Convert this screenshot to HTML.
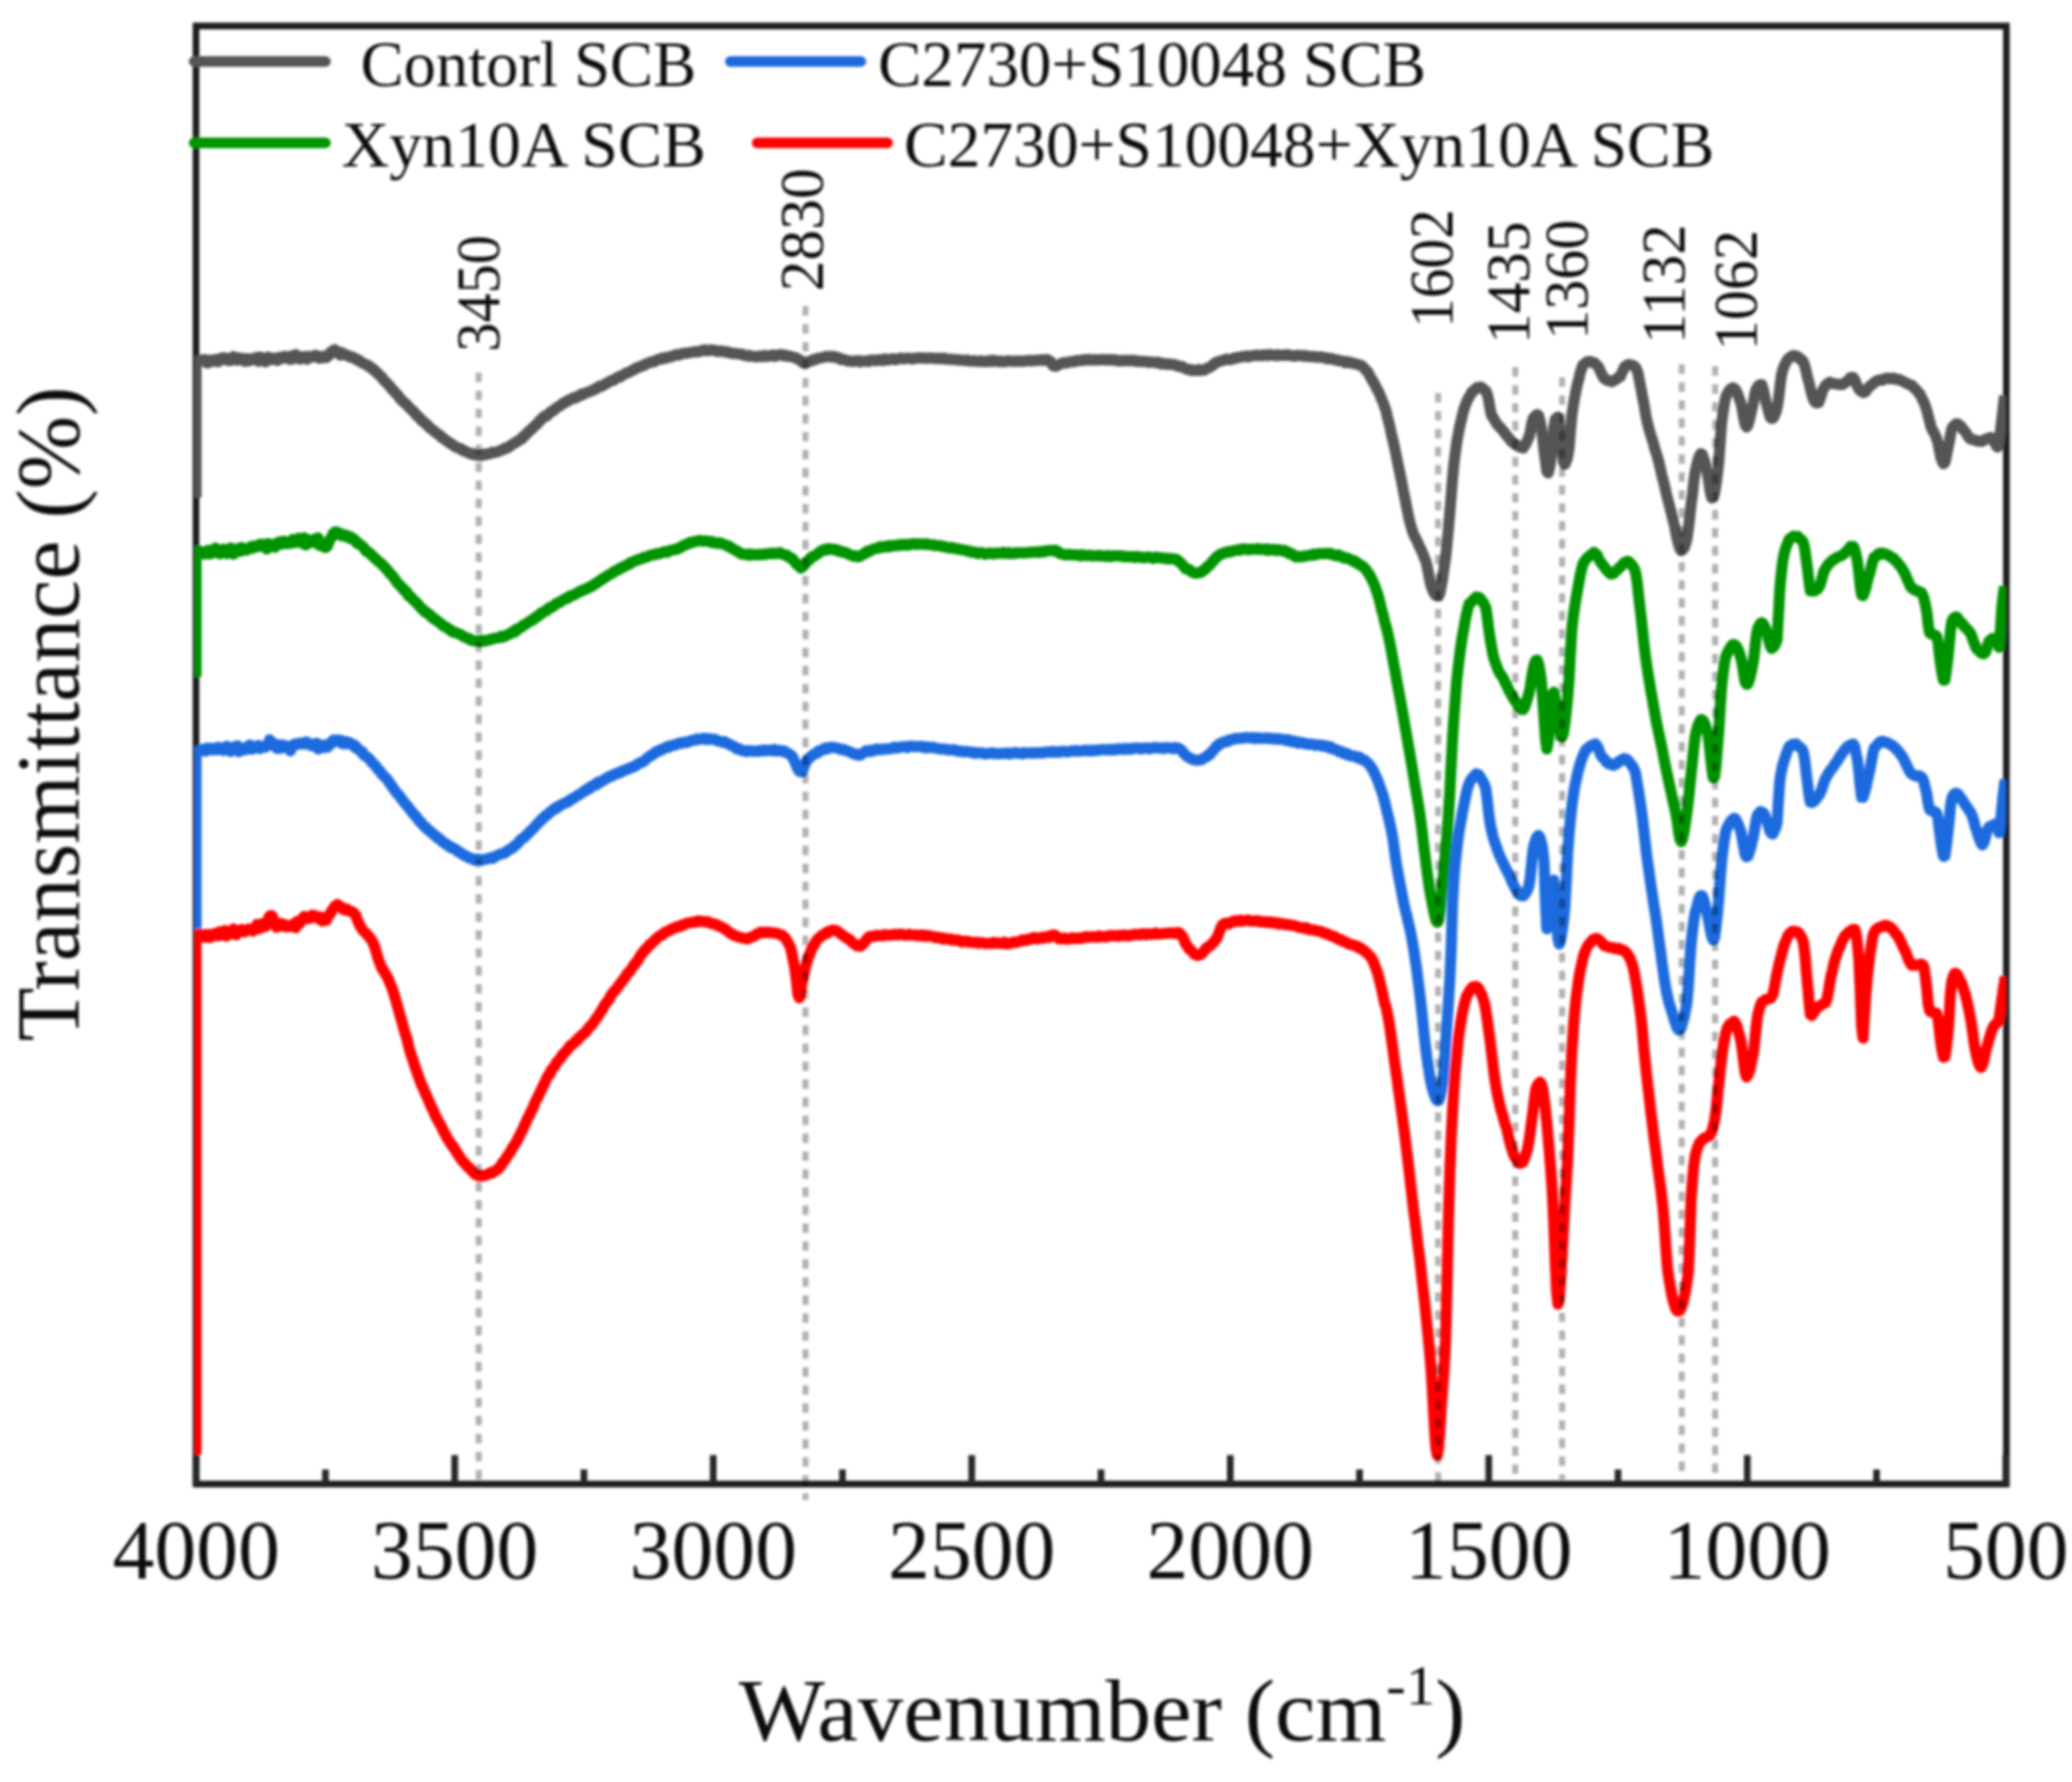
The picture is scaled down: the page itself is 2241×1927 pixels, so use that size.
<!DOCTYPE html>
<html lang="en"><head><meta charset="utf-8"><title>FTIR spectra</title>
<style>html,body{margin:0;padding:0;background:#fff}svg{display:block}text{font-family:"Liberation Serif",serif;fill:#111}</style>
</head><body>
<svg width="2241" height="1927" viewBox="0 0 2241 1927">
<defs><clipPath id="plot"><rect x="210.5" y="27" width="1959" height="1580"/></clipPath>
<filter id="soft" x="-2%" y="-2%" width="104%" height="104%"><feGaussianBlur stdDeviation="1.35"/></filter></defs>
<rect width="2241" height="1927" fill="#fff"/>
<g filter="url(#soft)">
<g stroke="#1c1c1c" fill="none">
<rect x="212.0" y="28.1" width="1958.0" height="1576.7" stroke-width="7.2"/>
<line x1="212.2" y1="1573.5" x2="212.2" y2="1604.8" stroke-width="7.2" stroke="#262626"/>
<line x1="352.0" y1="1589.0" x2="352.0" y2="1604.8" stroke-width="7.2" stroke="#262626"/>
<line x1="491.8" y1="1573.5" x2="491.8" y2="1604.8" stroke-width="7.2" stroke="#262626"/>
<line x1="631.6" y1="1589.0" x2="631.6" y2="1604.8" stroke-width="7.2" stroke="#262626"/>
<line x1="771.4" y1="1573.5" x2="771.4" y2="1604.8" stroke-width="7.2" stroke="#262626"/>
<line x1="911.2" y1="1589.0" x2="911.2" y2="1604.8" stroke-width="7.2" stroke="#262626"/>
<line x1="1051.0" y1="1573.5" x2="1051.0" y2="1604.8" stroke-width="7.2" stroke="#262626"/>
<line x1="1190.8" y1="1589.0" x2="1190.8" y2="1604.8" stroke-width="7.2" stroke="#262626"/>
<line x1="1330.6" y1="1573.5" x2="1330.6" y2="1604.8" stroke-width="7.2" stroke="#262626"/>
<line x1="1470.4" y1="1589.0" x2="1470.4" y2="1604.8" stroke-width="7.2" stroke="#262626"/>
<line x1="1610.2" y1="1573.5" x2="1610.2" y2="1604.8" stroke-width="7.2" stroke="#262626"/>
<line x1="1750.0" y1="1589.0" x2="1750.0" y2="1604.8" stroke-width="7.2" stroke="#262626"/>
<line x1="1889.8" y1="1573.5" x2="1889.8" y2="1604.8" stroke-width="7.2" stroke="#262626"/>
<line x1="2029.6" y1="1589.0" x2="2029.6" y2="1604.8" stroke-width="7.2" stroke="#262626"/>
<line x1="2169.4" y1="1573.5" x2="2169.4" y2="1604.8" stroke-width="7.2" stroke="#262626"/>
</g>
<g clip-path="url(#plot)" fill="none" stroke-width="12" stroke-linejoin="round" stroke-linecap="butt">
<path stroke="#555555" d="M212,538.0 L212,390.7 215.0,391.1 216.5,390.2 218.0,389.2 219.5,389.8 221.0,388.9 222.5,390.6 224.0,392.6 225.5,389.6 227.0,389.3 228.5,391.1 230.0,390.8 231.5,390.4 233.0,388.7 234.5,390.1 236.0,391.2 237.5,387.9 239.0,389.2 240.5,386.9 242.0,387.8 243.5,386.9 245.0,389.4 246.5,387.7 248.0,390.1 249.5,389.9 251.0,389.3 252.5,385.5 254.0,388.6 255.5,389.3 257.0,389.5 258.5,386.9 260.0,388.5 261.5,387.6 263.0,387.9 264.5,390.8 266.0,387.7 267.5,388.9 269.0,390.3 270.5,387.9 272.0,388.6 273.5,388.9 275.0,388.8 276.5,386.7 278.0,388.7 279.5,390.7 281.0,385.9 282.5,389.7 284.0,388.5 285.5,387.2 287.0,391.3 288.5,389.3 290.0,386.1 291.5,388.1 293.0,388.8 294.5,387.5 296.0,388.8 297.5,387.5 299.0,388.6 300.5,389.8 302.0,386.3 303.5,387.7 305.0,386.5 306.5,387.4 308.0,385.2 309.5,386.1 311.0,386.7 312.5,388.4 314.0,388.7 315.5,384.7 317.0,385.4 318.5,387.7 320.0,383.4 321.5,385.8 323.0,386.3 324.5,388.4 326.0,387.4 327.5,385.8 329.0,385.6 330.5,385.8 332.0,388.5 333.5,385.4 335.0,385.5 336.5,386.5 338.0,385.7 339.5,385.6 341.0,384.1 342.5,385.8 344.0,385.1 345.5,387.5 347.0,386.7 348.5,385.6 350.0,386.5 351.5,385.1 353.0,386.7 354.5,384.6 356.0,384.4 357.5,380.9 359.0,382.0 360.5,378.8 362.0,378.1 363.5,380.2 365.0,379.9 366.5,381.4 368.0,384.0 369.5,381.3 371.0,382.1 372.5,383.4 374.0,384.1 375.5,384.1 377.0,384.7 378.5,386.1 380.0,386.6 381.5,386.1 383.0,387.5 384.5,388.3 386.0,388.3 387.5,390.0 389.0,390.0 390.5,391.9 392.0,392.3 393.5,393.1 395.0,393.6 396.5,394.8 398.0,394.9 399.5,396.3 401.0,397.9 402.5,398.0 404.0,400.3 405.5,400.5 407.0,402.8 408.5,403.5 410.0,405.6 411.5,406.8 413.0,407.7 414.5,410.4 416.0,412.1 417.5,413.2 419.0,414.8 420.5,416.6 422.0,418.0 423.5,420.6 425.0,421.7 426.5,423.6 428.0,425.0 429.5,426.8 431.0,428.2 432.5,430.9 434.0,432.0 435.5,434.0 437.0,435.1 438.5,436.3 440.0,438.0 441.5,439.4 443.0,441.2 444.5,442.6 446.0,444.1 447.5,445.2 449.0,447.0 450.5,449.5 452.0,450.0 453.5,451.4 455.0,453.4 456.5,455.3 458.0,455.6 459.5,457.5 461.0,458.7 462.5,459.6 464.0,462.0 465.5,463.0 467.0,464.3 468.5,465.2 470.0,466.9 471.5,467.7 473.0,469.0 474.5,469.8 476.0,470.9 477.5,473.1 479.0,473.5 480.5,474.9 482.0,475.9 483.5,476.8 485.0,477.9 486.5,479.3 488.0,479.9 489.5,480.9 491.0,481.9 492.5,483.2 494.0,483.8 495.5,484.5 497.0,484.8 498.5,485.1 500.0,486.8 501.5,487.5 503.0,487.7 504.5,488.7 506.0,489.4 507.5,490.1 509.0,490.7 510.5,490.6 512.0,491.8 513.5,491.1 515.0,492.2 516.5,492.2 518.0,492.3 519.5,492.7 521.0,492.5 522.5,491.3 524.0,490.9 525.5,491.7 527.0,490.7 528.5,490.8 530.0,490.8 531.5,489.5 533.0,489.0 534.5,489.6 536.0,489.1 537.5,488.6 539.0,488.3 540.5,487.5 542.0,486.7 543.5,486.6 545.0,485.6 546.5,484.6 548.0,484.7 549.5,483.7 551.0,483.0 552.5,481.5 554.0,480.7 555.5,479.7 557.0,478.8 558.5,478.3 560.0,476.8 561.5,476.2 563.0,475.0 564.5,474.5 566.0,471.8 567.5,471.4 569.0,469.6 570.5,468.2 572.0,466.2 573.5,465.2 575.0,464.2 576.5,462.4 578.0,461.0 579.5,459.4 581.0,458.5 582.5,456.7 584.0,454.4 585.5,453.7 587.0,451.9 588.5,450.2 590.0,450.1 591.5,449.7 593.0,448.0 594.5,446.3 596.0,445.2 597.5,444.9 599.0,443.3 600.5,442.2 602.0,441.0 603.5,440.0 605.0,439.3 606.5,438.2 608.0,437.0 609.5,435.6 611.0,435.4 612.5,434.1 614.0,434.0 615.5,432.3 617.0,432.0 618.5,431.4 620.0,430.2 621.5,430.8 623.0,430.0 624.5,428.6 626.0,428.5 627.5,427.8 629.0,426.0 630.5,426.5 632.0,425.8 633.5,425.2 635.0,424.1 636.5,423.8 638.0,423.2 639.5,423.0 641.0,422.0 642.5,421.1 644.0,421.0 645.5,419.5 647.0,418.8 648.5,417.5 650.0,418.1 651.5,417.1 653.0,416.3 654.5,415.4 656.0,414.4 657.5,413.7 659.0,412.7 660.5,412.0 662.0,411.3 663.5,411.2 665.0,410.0 666.5,409.0 668.0,408.1 669.5,407.3 671.0,407.5 672.5,406.3 674.0,405.5 675.5,404.6 677.0,403.5 678.5,403.2 680.0,402.9 681.5,401.6 683.0,400.9 684.5,400.2 686.0,399.6 687.5,398.2 689.0,398.0 690.5,397.0 692.0,397.0 693.5,395.7 695.0,395.5 696.5,395.3 698.0,393.9 699.5,393.1 701.0,392.9 702.5,392.2 704.0,391.3 705.5,391.3 707.0,391.4 708.5,390.1 710.0,389.6 711.5,388.8 713.0,388.9 714.5,387.8 716.0,387.4 717.5,388.0 719.0,386.7 720.5,387.0 722.0,386.8 723.5,385.9 725.0,385.7 726.5,385.8 728.0,384.6 729.5,384.1 731.0,383.5 732.5,383.7 734.0,384.0 735.5,383.5 737.0,382.4 738.5,382.2 740.0,382.1 741.5,382.2 743.0,381.7 744.5,381.6 746.0,381.4 747.5,380.9 749.0,380.8 750.5,380.6 752.0,380.3 753.5,380.3 755.0,380.6 756.5,379.9 758.0,379.5 759.5,378.7 761.0,379.3 762.5,378.3 764.0,378.4 765.5,379.3 767.0,379.2 768.5,378.8 770.0,378.3 771.5,378.9 773.0,378.9 774.5,379.5 776.0,380.3 777.5,379.7 779.0,379.5 780.5,379.5 782.0,380.2 783.5,380.4 785.0,380.3 786.5,381.0 788.0,380.7 789.5,381.9 791.0,382.1 792.5,382.3 794.0,381.9 795.5,382.5 797.0,382.5 798.5,382.7 800.0,382.9 801.5,382.8 803.0,383.1 804.5,384.3 806.0,384.2 807.5,384.6 809.0,385.2 810.5,384.3 812.0,384.9 813.5,385.4 815.0,385.6 816.5,385.4 818.0,386.0 819.5,385.7 821.0,385.0 822.5,385.1 824.0,385.7 825.5,385.4 827.0,384.3 828.5,385.5 830.0,385.0 831.5,385.2 833.0,384.4 834.5,384.3 836.0,383.8 837.5,385.2 839.0,384.0 840.5,384.7 842.0,383.7 843.5,384.1 845.0,383.4 846.5,384.1 848.0,384.8 849.5,384.1 851.0,385.3 852.5,385.3 854.0,385.1 855.5,385.7 857.0,386.0 858.5,386.6 860.0,386.8 861.5,387.3 863.0,388.3 864.5,389.1 866.0,390.0 867.5,391.4 869.0,392.5 870.5,391.8 872.0,392.2 873.5,391.5 875.0,390.8 876.5,390.8 878.0,389.5 879.5,389.7 881.0,388.4 882.5,388.5 884.0,387.8 885.5,387.2 887.0,387.3 888.5,386.7 890.0,386.6 891.5,386.1 893.0,385.5 894.5,385.7 896.0,385.6 897.5,386.0 899.0,385.3 900.5,385.9 902.0,385.5 903.5,386.8 905.0,386.5 906.5,386.7 908.0,387.9 909.5,388.8 911.0,388.3 912.5,388.9 914.0,389.4 915.5,389.7 917.0,390.5 918.5,390.3 920.0,390.4 921.5,390.9 923.0,390.4 924.5,390.8 926.0,390.3 927.5,390.1 929.0,389.9 930.5,391.3 932.0,390.4 933.5,390.5 935.0,390.4 936.5,390.4 938.0,390.3 939.5,391.0 941.0,389.7 942.5,389.4 944.0,389.5 945.5,389.3 947.0,390.1 948.5,390.0 950.0,389.2 951.5,388.9 953.0,389.3 954.5,389.9 956.0,388.1 957.5,389.3 959.0,388.6 960.5,389.3 962.0,388.4 963.5,388.6 965.0,388.0 966.5,388.1 968.0,389.0 969.5,388.7 971.0,388.1 972.5,387.8 974.0,387.3 975.5,387.8 977.0,387.9 978.5,387.8 980.0,387.7 981.5,387.2 983.0,387.6 984.5,387.6 986.0,388.0 987.5,388.2 989.0,387.4 990.5,387.1 992.0,387.3 993.5,387.1 995.0,387.0 996.5,387.3 998.0,386.9 999.5,387.5 1001.0,387.3 1002.5,387.4 1004.0,387.3 1005.5,387.1 1007.0,387.1 1008.5,387.4 1010.0,387.4 1011.5,387.7 1013.0,387.7 1014.5,387.3 1016.0,387.9 1017.5,387.4 1019.0,387.8 1020.5,388.1 1022.0,387.4 1023.5,388.4 1025.0,388.5 1026.5,388.5 1028.0,388.5 1029.5,388.7 1031.0,388.5 1032.5,388.9 1034.0,388.9 1035.5,389.3 1037.0,388.9 1038.5,389.6 1040.0,389.6 1041.5,389.6 1043.0,389.6 1044.5,390.1 1046.0,389.3 1047.5,390.3 1049.0,390.3 1050.5,390.4 1052.0,390.5 1053.5,390.1 1055.0,390.4 1056.5,390.8 1058.0,390.7 1059.5,390.7 1061.0,390.0 1062.5,390.9 1064.0,391.2 1065.5,391.1 1067.0,390.8 1068.5,390.1 1070.0,391.1 1071.5,390.6 1073.0,389.7 1074.5,390.8 1076.0,390.1 1077.5,390.2 1079.0,390.4 1080.5,391.2 1082.0,390.5 1083.5,390.8 1085.0,391.3 1086.5,391.3 1088.0,390.6 1089.5,390.5 1091.0,390.1 1092.5,390.3 1094.0,390.7 1095.5,390.7 1097.0,390.6 1098.5,390.9 1100.0,390.2 1101.5,390.4 1103.0,390.7 1104.5,390.6 1106.0,390.8 1107.5,390.5 1109.0,390.2 1110.5,390.4 1112.0,389.9 1113.5,389.6 1115.0,390.4 1116.5,390.1 1118.0,390.2 1119.5,389.4 1121.0,389.9 1122.5,389.8 1124.0,389.6 1125.5,388.9 1127.0,389.5 1128.5,389.8 1130.0,389.4 1131.5,388.8 1133.0,389.0 1134.5,390.1 1136.0,390.5 1137.5,393.7 1139.0,395.5 1140.5,396.0 1142.0,396.1 1143.5,395.4 1145.0,394.4 1146.5,393.7 1148.0,393.3 1149.5,392.3 1151.0,392.2 1152.5,392.3 1154.0,392.5 1155.5,391.4 1157.0,391.3 1158.5,391.1 1160.0,391.4 1161.5,390.6 1163.0,391.0 1164.5,389.9 1166.0,390.0 1167.5,389.8 1169.0,390.1 1170.5,390.1 1172.0,388.9 1173.5,389.0 1175.0,389.4 1176.5,388.9 1178.0,388.5 1179.5,389.5 1181.0,389.2 1182.5,389.2 1184.0,388.8 1185.5,389.4 1187.0,388.9 1188.5,389.5 1190.0,388.7 1191.5,388.7 1193.0,389.1 1194.5,388.8 1196.0,389.4 1197.5,389.2 1199.0,388.8 1200.5,389.2 1202.0,389.1 1203.5,389.7 1205.0,389.1 1206.5,389.2 1208.0,389.9 1209.5,390.4 1211.0,390.3 1212.5,389.6 1214.0,389.8 1215.5,390.4 1217.0,389.8 1218.5,389.5 1220.0,390.0 1221.5,390.2 1223.0,389.8 1224.5,389.6 1226.0,389.7 1227.5,390.7 1229.0,390.2 1230.5,390.5 1232.0,390.8 1233.5,391.0 1235.0,390.8 1236.5,391.2 1238.0,390.8 1239.5,391.1 1241.0,390.9 1242.5,391.9 1244.0,391.6 1245.5,391.4 1247.0,391.7 1248.5,391.9 1250.0,392.4 1251.5,391.6 1253.0,392.0 1254.5,392.4 1256.0,393.7 1257.5,393.2 1259.0,392.9 1260.5,393.4 1262.0,394.1 1263.5,393.4 1265.0,393.5 1266.5,394.3 1268.0,394.1 1269.5,394.4 1271.0,394.2 1272.5,395.6 1274.0,396.0 1275.5,396.1 1277.0,396.7 1278.5,396.2 1280.0,397.9 1281.5,398.2 1283.0,399.0 1284.5,399.6 1286.0,399.7 1287.5,399.5 1289.0,400.7 1290.5,400.4 1292.0,400.7 1293.5,400.5 1295.0,400.5 1296.5,399.6 1298.0,400.8 1299.5,400.2 1301.0,400.3 1302.5,400.3 1304.0,399.2 1305.5,398.1 1307.0,397.9 1308.5,396.9 1310.0,396.2 1311.5,395.3 1313.0,393.3 1314.5,393.1 1316.0,391.4 1317.5,391.3 1319.0,390.7 1320.5,390.2 1322.0,390.0 1323.5,389.4 1325.0,389.1 1326.5,388.3 1328.0,388.6 1329.5,389.1 1331.0,388.8 1332.5,388.3 1334.0,387.8 1335.5,386.9 1337.0,387.5 1338.5,386.7 1340.0,386.4 1341.5,386.1 1343.0,386.0 1344.5,385.6 1346.0,385.6 1347.5,385.0 1349.0,385.1 1350.5,386.0 1352.0,384.9 1353.5,384.7 1355.0,384.8 1356.5,384.8 1358.0,384.0 1359.5,384.2 1361.0,384.6 1362.5,384.3 1364.0,384.2 1365.5,384.7 1367.0,383.8 1368.5,384.0 1370.0,383.8 1371.5,384.6 1373.0,383.2 1374.5,383.7 1376.0,383.8 1377.5,384.3 1379.0,384.3 1380.5,384.6 1382.0,383.5 1383.5,384.4 1385.0,384.0 1386.5,383.9 1388.0,384.4 1389.5,383.9 1391.0,383.5 1392.5,384.2 1394.0,383.8 1395.5,384.2 1397.0,384.7 1398.5,384.7 1400.0,385.3 1401.5,384.6 1403.0,384.1 1404.5,384.5 1406.0,384.5 1407.5,384.4 1409.0,385.2 1410.5,384.8 1412.0,384.4 1413.5,385.5 1415.0,385.3 1416.5,385.5 1418.0,385.5 1419.5,385.8 1421.0,385.6 1422.5,386.2 1424.0,386.0 1425.5,386.2 1427.0,386.4 1428.5,385.8 1430.0,386.5 1431.5,386.7 1433.0,387.2 1434.5,386.8 1436.0,388.3 1437.5,387.9 1439.0,387.7 1440.5,387.8 1442.0,388.6 1443.5,389.0 1445.0,389.0 1446.5,389.7 1448.0,389.6 1449.5,390.4 1451.0,390.2 1452.5,390.7 1454.0,391.4 1455.5,392.3 1457.0,391.1 1458.5,391.6 1460.0,391.8 1461.5,392.8 1463.0,392.4 1464.5,393.0 1466.0,393.6 1467.5,393.7 1469.0,394.2 1470.5,395.0 1472.0,395.0 1473.5,396.1 1475.0,397.7 1476.5,399.5 1478.0,401.1 1479.5,402.4 1481.0,405.3 1482.5,408.4 1484.0,410.9 1485.5,413.3 1487.0,415.8 1488.5,419.3 1490.0,421.8 1491.5,424.7 1493.0,428.1 1494.5,432.4 1496.0,435.4 1497.5,439.8 1499.0,444.1 1500.5,450.9 1502.0,456.5 1503.5,462.6 1505.0,470.0 1506.5,476.0 1508.0,482.4 1509.5,489.6 1511.0,496.9 1512.5,504.6 1514.0,511.4 1515.5,518.4 1517.0,526.5 1518.5,534.1 1520.0,541.3 1521.5,549.1 1523.0,556.2 1524.5,563.4 1526.0,568.6 1527.5,573.8 1529.0,578.1 1530.5,580.9 1532.0,583.8 1533.5,586.9 1535.0,590.9 1536.5,593.3 1538.0,596.8 1539.5,600.4 1541.0,604.3 1542.5,608.2 1544.0,614.6 1545.5,623.1 1547.0,630.6 1548.5,635.4 1550.0,639.0 1551.5,642.0 1553.0,644.0 1554.5,644.4 1556.0,644.5 1557.5,640.8 1559.0,632.7 1560.5,623.8 1562.0,613.0 1563.5,602.8 1565.0,588.8 1566.5,572.5 1568.0,555.0 1569.5,536.6 1571.0,517.2 1572.5,501.4 1574.0,490.1 1575.5,478.6 1577.0,470.5 1578.5,462.3 1580.0,456.2 1581.5,449.6 1583.0,443.7 1584.5,439.2 1586.0,435.2 1587.5,431.7 1589.0,429.4 1590.5,426.7 1592.0,423.8 1593.5,423.1 1595.0,421.3 1596.5,419.8 1598.0,418.9 1599.5,418.9 1601.0,418.5 1602.5,419.0 1604.0,420.2 1605.5,422.0 1607.0,422.7 1608.5,426.1 1610.0,432.3 1611.5,441.2 1613.0,448.5 1614.5,451.2 1616.0,453.4 1617.5,456.0 1619.0,458.5 1620.5,460.4 1622.0,461.4 1623.5,463.4 1625.0,465.3 1626.5,466.7 1628.0,469.0 1629.5,470.9 1631.0,472.6 1632.5,474.5 1634.0,476.4 1635.5,477.9 1637.0,479.0 1638.5,480.0 1640.0,481.5 1641.5,482.0 1643.0,483.0 1644.5,483.7 1646.0,483.8 1647.5,484.4 1649.0,481.8 1650.5,479.8 1652.0,475.9 1653.5,473.0 1655.0,467.7 1656.5,458.9 1658.0,453.0 1659.5,450.9 1661.0,449.3 1662.5,448.4 1664.0,449.2 1665.5,454.6 1667.0,461.9 1668.5,473.0 1670.0,487.7 1671.5,498.0 1673.0,509.8 1674.5,511.4 1676.0,506.0 1677.5,495.4 1679.0,481.4 1680.5,462.7 1682.0,453.8 1683.5,451.9 1685.0,450.9 1686.5,458.8 1688.0,472.8 1689.5,486.9 1691.0,499.8 1692.5,502.0 1694.0,498.7 1695.5,493.8 1697.0,484.9 1698.5,466.6 1700.0,449.7 1701.5,439.3 1703.0,430.3 1704.5,422.7 1706.0,415.6 1707.5,410.1 1709.0,403.5 1710.5,398.8 1712.0,394.7 1713.5,393.6 1715.0,392.5 1716.5,391.3 1718.0,391.7 1719.5,390.8 1721.0,391.6 1722.5,391.8 1724.0,392.1 1725.5,393.3 1727.0,395.0 1728.5,396.3 1730.0,399.2 1731.5,402.9 1733.0,405.9 1734.5,409.0 1736.0,409.2 1737.5,411.1 1739.0,411.4 1740.5,411.9 1742.0,412.5 1743.5,412.7 1745.0,411.7 1746.5,410.9 1748.0,410.2 1749.5,408.7 1751.0,407.8 1752.5,407.3 1754.0,403.3 1755.5,400.6 1757.0,396.8 1758.5,395.8 1760.0,394.8 1761.5,394.3 1763.0,394.2 1764.5,394.8 1766.0,394.9 1767.5,396.1 1769.0,397.3 1770.5,400.2 1772.0,405.3 1773.5,413.5 1775.0,421.0 1776.5,429.5 1778.0,436.5 1779.5,445.7 1781.0,454.0 1782.5,460.1 1784.0,465.6 1785.5,470.9 1787.0,475.2 1788.5,480.4 1790.0,486.1 1791.5,490.6 1793.0,495.3 1794.5,501.3 1796.0,507.6 1797.5,514.4 1799.0,519.9 1800.5,526.2 1802.0,533.0 1803.5,539.1 1805.0,544.5 1806.5,550.2 1808.0,556.0 1809.5,562.4 1811.0,568.0 1812.5,576.3 1814.0,583.0 1815.5,589.1 1817.0,593.3 1818.5,595.5 1820.0,594.2 1821.5,592.5 1823.0,588.6 1824.5,582.7 1826.0,572.5 1827.5,559.3 1829.0,545.2 1830.5,534.5 1832.0,520.5 1833.5,510.2 1835.0,503.4 1836.5,497.6 1838.0,493.1 1839.5,490.6 1841.0,491.1 1842.5,495.4 1844.0,499.9 1845.5,507.0 1847.0,513.6 1848.5,523.7 1850.0,533.2 1851.5,538.5 1853.0,537.8 1854.5,532.7 1856.0,523.6 1857.5,512.5 1859.0,499.3 1860.5,477.5 1862.0,457.6 1863.5,446.2 1865.0,436.9 1866.5,429.4 1868.0,426.0 1869.5,423.5 1871.0,421.4 1872.5,420.2 1874.0,419.3 1875.5,419.9 1877.0,421.1 1878.5,424.0 1880.0,427.5 1881.5,432.1 1883.0,436.2 1884.5,443.6 1886.0,452.4 1887.5,458.9 1889.0,461.8 1890.5,459.7 1892.0,454.4 1893.5,447.7 1895.0,441.3 1896.5,434.5 1898.0,425.7 1899.5,420.9 1901.0,418.3 1902.5,416.7 1904.0,416.0 1905.5,416.1 1907.0,421.0 1908.5,427.8 1910.0,435.1 1911.5,440.1 1913.0,445.5 1914.5,451.0 1916.0,452.4 1917.5,452.2 1919.0,450.1 1920.5,446.2 1922.0,440.9 1923.5,431.9 1925.0,419.2 1926.5,406.8 1928.0,400.6 1929.5,396.3 1931.0,393.1 1932.5,390.1 1934.0,388.1 1935.5,386.9 1937.0,385.9 1938.5,384.8 1940.0,384.4 1941.5,385.0 1943.0,385.1 1944.5,386.1 1946.0,387.2 1947.5,389.2 1949.0,389.3 1950.5,391.4 1952.0,395.5 1953.5,401.7 1955.0,408.3 1956.5,413.5 1958.0,419.9 1959.5,426.0 1961.0,431.1 1962.5,434.1 1964.0,435.4 1965.5,435.8 1967.0,435.2 1968.5,431.4 1970.0,426.5 1971.5,421.7 1973.0,419.4 1974.5,416.7 1976.0,415.2 1977.5,415.2 1979.0,413.4 1980.5,414.3 1982.0,414.7 1983.5,414.7 1985.0,414.8 1986.5,415.4 1988.0,415.6 1989.5,415.8 1991.0,415.2 1992.5,415.9 1994.0,415.0 1995.5,414.1 1997.0,412.9 1998.5,411.5 2000.0,410.1 2001.5,408.3 2003.0,408.1 2004.5,408.2 2006.0,410.5 2007.5,414.4 2009.0,417.8 2010.5,420.7 2012.0,422.6 2013.5,423.0 2015.0,424.5 2016.5,424.2 2018.0,423.2 2019.5,420.9 2021.0,419.1 2022.5,417.5 2024.0,416.4 2025.5,415.3 2027.0,413.8 2028.5,412.8 2030.0,411.7 2031.5,411.5 2033.0,410.8 2034.5,410.9 2036.0,411.0 2037.5,410.1 2039.0,409.2 2040.5,409.3 2042.0,408.9 2043.5,408.9 2045.0,409.8 2046.5,409.4 2048.0,408.8 2049.5,409.9 2051.0,410.4 2052.5,410.1 2054.0,410.4 2055.5,411.1 2057.0,411.9 2058.5,412.6 2060.0,413.4 2061.5,414.1 2063.0,414.8 2064.5,415.6 2066.0,416.2 2067.5,416.4 2069.0,418.2 2070.5,419.7 2072.0,420.9 2073.5,423.1 2075.0,424.4 2076.5,426.2 2078.0,429.6 2079.5,432.2 2081.0,435.4 2082.5,439.4 2084.0,443.7 2085.5,449.8 2087.0,455.5 2088.5,461.6 2090.0,465.0 2091.5,467.4 2093.0,470.4 2094.5,474.1 2096.0,478.9 2097.5,486.6 2099.0,494.2 2100.5,498.6 2102.0,501.4 2103.5,500.1 2105.0,493.7 2106.5,485.6 2108.0,479.2 2109.5,470.6 2111.0,463.6 2112.5,461.1 2114.0,459.9 2115.5,458.3 2117.0,458.3 2118.5,458.7 2120.0,461.2 2121.5,461.6 2123.0,464.4 2124.5,465.5 2126.0,467.5 2127.5,470.1 2129.0,472.3 2130.5,474.2 2132.0,475.0 2133.5,475.1 2135.0,475.5 2136.5,476.3 2138.0,476.6 2139.5,477.2 2141.0,476.9 2142.5,477.2 2144.0,477.3 2145.5,476.3 2147.0,475.1 2148.5,474.6 2150.0,473.9 2151.5,474.5 2153.0,473.2 2154.5,473.9 2156.0,475.3 2157.5,478.8 2159.0,481.8 2160.5,483.4 2162.0,480.1 2163.5,467.3 2165.0,454.3 2166.5,441.3 2168.0,427.8"/>
<path stroke="#069306" d="M212,732.0 L212,601.0 215.0,595.6 216.5,598.6 218.0,596.6 219.5,598.2 221.0,599.1 222.5,597.6 224.0,598.8 225.5,594.9 227.0,599.1 228.5,596.2 230.0,598.0 231.5,597.2 233.0,592.6 234.5,595.4 236.0,596.9 237.5,598.9 239.0,596.7 240.5,596.5 242.0,593.7 243.5,598.1 245.0,598.6 246.5,595.6 248.0,595.0 249.5,592.6 251.0,596.5 252.5,599.3 254.0,595.9 255.5,596.7 257.0,595.4 258.5,592.8 260.0,596.3 261.5,592.1 263.0,593.5 264.5,594.2 266.0,595.0 267.5,594.1 269.0,593.9 270.5,591.9 272.0,590.8 273.5,592.8 275.0,591.4 276.5,590.2 278.0,590.1 279.5,591.1 281.0,588.7 282.5,589.2 284.0,588.5 285.5,591.2 287.0,591.3 288.5,593.6 290.0,587.8 291.5,588.8 293.0,591.1 294.5,589.1 296.0,588.7 297.5,591.7 299.0,588.1 300.5,586.6 302.0,586.1 303.5,588.5 305.0,588.2 306.5,585.3 308.0,585.7 309.5,587.9 311.0,587.8 312.5,585.6 314.0,587.5 315.5,587.2 317.0,583.3 318.5,585.4 320.0,586.5 321.5,584.7 323.0,582.1 324.5,584.9 326.0,586.5 327.5,587.7 329.0,581.6 330.5,589.3 332.0,583.2 333.5,586.5 335.0,587.0 336.5,586.6 338.0,585.3 339.5,583.2 341.0,586.2 342.5,584.2 344.0,581.6 345.5,589.8 347.0,587.5 348.5,590.4 350.0,587.9 351.5,591.9 353.0,591.7 354.5,589.8 356.0,585.3 357.5,581.9 359.0,581.1 360.5,576.6 362.0,575.5 363.5,576.7 365.0,575.5 366.5,576.6 368.0,576.9 369.5,579.4 371.0,579.3 372.5,578.5 374.0,580.4 375.5,579.2 377.0,580.4 378.5,582.1 380.0,581.1 381.5,582.8 383.0,583.0 384.5,585.1 386.0,587.3 387.5,587.0 389.0,588.9 390.5,589.6 392.0,590.8 393.5,592.2 395.0,594.9 396.5,596.5 398.0,596.9 399.5,597.7 401.0,599.6 402.5,600.5 404.0,602.3 405.5,603.5 407.0,604.9 408.5,606.4 410.0,607.4 411.5,608.9 413.0,609.9 414.5,611.9 416.0,613.0 417.5,615.1 419.0,616.4 420.5,618.6 422.0,620.4 423.5,621.5 425.0,623.5 426.5,625.3 428.0,627.7 429.5,629.9 431.0,631.4 432.5,632.7 434.0,635.1 435.5,635.6 437.0,638.4 438.5,639.2 440.0,640.0 441.5,643.8 443.0,644.9 444.5,645.5 446.0,647.6 447.5,649.0 449.0,650.7 450.5,651.6 452.0,653.4 453.5,655.4 455.0,656.8 456.5,658.6 458.0,659.5 459.5,661.8 461.0,661.9 462.5,663.6 464.0,663.9 465.5,665.4 467.0,667.7 468.5,667.9 470.0,669.7 471.5,670.6 473.0,671.4 474.5,672.8 476.0,673.8 477.5,674.9 479.0,676.4 480.5,677.4 482.0,677.9 483.5,678.7 485.0,680.1 486.5,680.8 488.0,682.0 489.5,683.5 491.0,683.5 492.5,683.9 494.0,684.6 495.5,685.1 497.0,685.8 498.5,686.5 500.0,687.5 501.5,688.2 503.0,689.4 504.5,689.6 506.0,690.3 507.5,690.5 509.0,692.2 510.5,692.2 512.0,693.0 513.5,692.9 515.0,693.4 516.5,692.9 518.0,693.3 519.5,694.0 521.0,692.4 522.5,693.2 524.0,693.3 525.5,692.6 527.0,692.5 528.5,692.5 530.0,691.4 531.5,691.5 533.0,690.7 534.5,690.4 536.0,690.1 537.5,689.9 539.0,689.6 540.5,689.3 542.0,688.1 543.5,689.1 545.0,688.4 546.5,687.7 548.0,686.7 549.5,686.2 551.0,685.7 552.5,684.9 554.0,683.2 555.5,683.4 557.0,683.4 558.5,680.5 560.0,680.7 561.5,679.5 563.0,678.3 564.5,677.9 566.0,675.9 567.5,675.4 569.0,675.0 570.5,673.4 572.0,672.4 573.5,671.7 575.0,670.5 576.5,670.4 578.0,668.4 579.5,668.1 581.0,666.2 582.5,666.0 584.0,664.7 585.5,662.6 587.0,662.7 588.5,661.2 590.0,660.4 591.5,660.2 593.0,658.1 594.5,657.1 596.0,657.2 597.5,655.7 599.0,655.3 600.5,653.8 602.0,652.4 603.5,651.9 605.0,651.5 606.5,650.6 608.0,649.4 609.5,648.6 611.0,647.7 612.5,646.8 614.0,647.1 615.5,645.5 617.0,644.3 618.5,643.9 620.0,643.7 621.5,642.9 623.0,641.9 624.5,641.0 626.0,640.5 627.5,639.1 629.0,638.6 630.5,638.7 632.0,637.4 633.5,637.0 635.0,636.6 636.5,635.6 638.0,634.5 639.5,634.6 641.0,633.2 642.5,631.9 644.0,631.4 645.5,630.4 647.0,629.0 648.5,628.4 650.0,627.4 651.5,625.7 653.0,625.5 654.5,624.5 656.0,623.4 657.5,622.0 659.0,621.6 660.5,620.8 662.0,619.9 663.5,618.5 665.0,618.3 666.5,616.6 668.0,616.2 669.5,616.0 671.0,614.3 672.5,613.6 674.0,613.5 675.5,612.2 677.0,611.5 678.5,611.0 680.0,610.6 681.5,608.5 683.0,608.4 684.5,607.6 686.0,606.9 687.5,606.3 689.0,605.6 690.5,605.5 692.0,604.4 693.5,604.2 695.0,603.7 696.5,602.7 698.0,602.5 699.5,602.6 701.0,601.6 702.5,600.8 704.0,600.6 705.5,599.8 707.0,599.9 708.5,599.8 710.0,598.8 711.5,598.7 713.0,598.9 714.5,597.9 716.0,597.8 717.5,597.0 719.0,596.7 720.5,596.5 722.0,597.2 723.5,595.8 725.0,595.3 726.5,594.9 728.0,594.6 729.5,594.5 731.0,593.7 732.5,593.9 734.0,592.6 735.5,592.4 737.0,591.3 738.5,590.8 740.0,589.3 741.5,589.2 743.0,588.6 744.5,587.9 746.0,586.5 747.5,587.2 749.0,586.2 750.5,585.8 752.0,585.5 753.5,585.2 755.0,585.3 756.5,584.5 758.0,584.6 759.5,585.2 761.0,585.2 762.5,585.1 764.0,585.1 765.5,585.2 767.0,585.7 768.5,586.4 770.0,585.7 771.5,587.0 773.0,587.0 774.5,586.8 776.0,587.6 777.5,587.0 779.0,587.2 780.5,587.7 782.0,588.4 783.5,588.9 785.0,589.4 786.5,590.3 788.0,590.2 789.5,592.1 791.0,592.2 792.5,593.4 794.0,594.4 795.5,595.0 797.0,595.8 798.5,596.7 800.0,597.9 801.5,598.8 803.0,599.3 804.5,599.1 806.0,599.5 807.5,599.6 809.0,600.2 810.5,599.2 812.0,600.4 813.5,599.7 815.0,599.5 816.5,599.9 818.0,600.1 819.5,599.7 821.0,599.9 822.5,599.4 824.0,599.8 825.5,599.7 827.0,599.0 828.5,599.5 830.0,598.9 831.5,598.8 833.0,598.3 834.5,598.5 836.0,598.8 837.5,598.0 839.0,598.7 840.5,598.5 842.0,598.5 843.5,597.6 845.0,598.7 846.5,599.5 848.0,599.5 849.5,600.5 851.0,600.2 852.5,602.2 854.0,602.5 855.5,603.9 857.0,603.9 858.5,606.4 860.0,607.8 861.5,610.0 863.0,610.9 864.5,612.4 866.0,614.3 867.5,613.2 869.0,612.0 870.5,610.2 872.0,607.7 873.5,607.0 875.0,605.9 876.5,603.6 878.0,602.0 879.5,602.1 881.0,601.0 882.5,600.0 884.0,599.3 885.5,597.6 887.0,596.9 888.5,595.6 890.0,594.8 891.5,595.1 893.0,593.8 894.5,594.6 896.0,593.5 897.5,593.2 899.0,593.8 900.5,594.4 902.0,594.2 903.5,593.9 905.0,595.0 906.5,595.9 908.0,595.6 909.5,596.0 911.0,597.1 912.5,597.2 914.0,597.2 915.5,598.1 917.0,598.5 918.5,599.6 920.0,600.1 921.5,601.1 923.0,601.4 924.5,600.9 926.0,601.9 927.5,602.2 929.0,601.8 930.5,601.5 932.0,600.2 933.5,599.2 935.0,599.0 936.5,597.3 938.0,596.0 939.5,596.6 941.0,595.3 942.5,595.0 944.0,594.0 945.5,593.5 947.0,593.1 948.5,592.9 950.0,592.8 951.5,591.3 953.0,592.2 954.5,591.2 956.0,591.0 957.5,591.5 959.0,591.0 960.5,590.2 962.0,591.3 963.5,590.0 965.0,590.3 966.5,590.1 968.0,590.4 969.5,589.5 971.0,589.9 972.5,589.0 974.0,589.6 975.5,588.7 977.0,588.8 978.5,589.6 980.0,588.8 981.5,588.6 983.0,589.4 984.5,588.6 986.0,588.1 987.5,588.6 989.0,587.8 990.5,588.8 992.0,588.8 993.5,588.1 995.0,588.1 996.5,588.5 998.0,588.5 999.5,588.2 1001.0,588.9 1002.5,588.0 1004.0,588.8 1005.5,588.9 1007.0,589.1 1008.5,589.5 1010.0,589.1 1011.5,590.0 1013.0,589.9 1014.5,589.9 1016.0,589.9 1017.5,590.1 1019.0,591.0 1020.5,590.7 1022.0,591.3 1023.5,591.9 1025.0,592.1 1026.5,592.6 1028.0,592.0 1029.5,591.9 1031.0,593.0 1032.5,592.9 1034.0,593.4 1035.5,593.2 1037.0,594.0 1038.5,594.1 1040.0,594.4 1041.5,594.6 1043.0,594.9 1044.5,595.2 1046.0,595.5 1047.5,596.2 1049.0,595.9 1050.5,597.1 1052.0,596.7 1053.5,597.4 1055.0,597.3 1056.5,597.5 1058.0,598.6 1059.5,597.9 1061.0,597.6 1062.5,598.0 1064.0,598.2 1065.5,599.3 1067.0,598.5 1068.5,598.8 1070.0,598.0 1071.5,598.5 1073.0,598.6 1074.5,599.1 1076.0,598.1 1077.5,598.6 1079.0,598.4 1080.5,597.9 1082.0,598.3 1083.5,598.2 1085.0,597.3 1086.5,598.5 1088.0,598.4 1089.5,598.0 1091.0,597.6 1092.5,598.7 1094.0,598.2 1095.5,598.4 1097.0,598.6 1098.5,597.8 1100.0,598.2 1101.5,597.8 1103.0,597.8 1104.5,597.8 1106.0,597.7 1107.5,598.1 1109.0,597.7 1110.5,597.5 1112.0,597.4 1113.5,597.6 1115.0,597.1 1116.5,597.2 1118.0,597.3 1119.5,597.0 1121.0,597.0 1122.5,596.6 1124.0,597.5 1125.5,597.0 1127.0,596.5 1128.5,596.0 1130.0,596.7 1131.5,595.8 1133.0,595.4 1134.5,595.4 1136.0,595.3 1137.5,595.6 1139.0,595.0 1140.5,595.9 1142.0,595.1 1143.5,596.5 1145.0,596.7 1146.5,598.8 1148.0,598.8 1149.5,599.4 1151.0,599.9 1152.5,600.2 1154.0,599.4 1155.5,599.8 1157.0,599.4 1158.5,600.1 1160.0,600.1 1161.5,600.1 1163.0,600.0 1164.5,600.2 1166.0,600.1 1167.5,600.7 1169.0,601.2 1170.5,599.8 1172.0,600.6 1173.5,600.5 1175.0,600.9 1176.5,600.4 1178.0,600.8 1179.5,600.4 1181.0,601.2 1182.5,601.0 1184.0,600.9 1185.5,601.1 1187.0,600.9 1188.5,600.4 1190.0,601.3 1191.5,601.2 1193.0,601.1 1194.5,601.5 1196.0,601.7 1197.5,600.8 1199.0,600.9 1200.5,601.9 1202.0,601.9 1203.5,601.0 1205.0,600.9 1206.5,601.1 1208.0,601.2 1209.5,600.9 1211.0,601.5 1212.5,601.1 1214.0,601.2 1215.5,602.1 1217.0,601.5 1218.5,601.8 1220.0,602.1 1221.5,602.3 1223.0,601.9 1224.5,602.1 1226.0,601.8 1227.5,602.9 1229.0,602.5 1230.5,601.8 1232.0,602.3 1233.5,602.7 1235.0,602.6 1236.5,603.2 1238.0,603.1 1239.5,602.4 1241.0,602.6 1242.5,602.2 1244.0,602.9 1245.5,602.9 1247.0,604.0 1248.5,603.0 1250.0,602.3 1251.5,602.9 1253.0,603.3 1254.5,602.9 1256.0,603.1 1257.5,603.5 1259.0,603.9 1260.5,603.8 1262.0,603.6 1263.5,604.5 1265.0,604.1 1266.5,604.3 1268.0,604.1 1269.5,604.5 1271.0,605.3 1272.5,604.7 1274.0,606.0 1275.5,607.5 1277.0,608.6 1278.5,610.5 1280.0,611.7 1281.5,614.2 1283.0,615.3 1284.5,615.8 1286.0,615.8 1287.5,616.9 1289.0,618.4 1290.5,619.3 1292.0,619.3 1293.5,620.0 1295.0,619.4 1296.5,619.5 1298.0,619.2 1299.5,618.6 1301.0,616.8 1302.5,616.6 1304.0,615.4 1305.5,613.1 1307.0,611.8 1308.5,611.2 1310.0,609.1 1311.5,606.6 1313.0,606.0 1314.5,603.9 1316.0,602.0 1317.5,601.7 1319.0,600.1 1320.5,599.1 1322.0,598.9 1323.5,597.9 1325.0,597.5 1326.5,597.5 1328.0,596.6 1329.5,596.2 1331.0,596.7 1332.5,596.0 1334.0,595.6 1335.5,595.2 1337.0,594.9 1338.5,595.1 1340.0,594.3 1341.5,594.9 1343.0,593.7 1344.5,593.9 1346.0,593.4 1347.5,593.9 1349.0,594.2 1350.5,594.6 1352.0,593.8 1353.5,594.0 1355.0,593.9 1356.5,593.8 1358.0,593.6 1359.5,594.1 1361.0,593.4 1362.5,594.2 1364.0,594.2 1365.5,593.9 1367.0,593.8 1368.5,593.7 1370.0,595.1 1371.5,593.8 1373.0,595.0 1374.5,594.7 1376.0,594.4 1377.5,594.1 1379.0,595.1 1380.5,595.4 1382.0,594.4 1383.5,594.7 1385.0,595.3 1386.5,595.1 1388.0,596.0 1389.5,595.3 1391.0,596.4 1392.5,596.4 1394.0,598.6 1395.5,598.4 1397.0,598.7 1398.5,600.3 1400.0,601.0 1401.5,602.3 1403.0,601.6 1404.5,601.8 1406.0,602.0 1407.5,602.3 1409.0,601.5 1410.5,601.8 1412.0,601.4 1413.5,600.8 1415.0,600.8 1416.5,600.5 1418.0,599.9 1419.5,600.5 1421.0,599.2 1422.5,600.0 1424.0,599.6 1425.5,599.0 1427.0,598.6 1428.5,598.6 1430.0,598.8 1431.5,598.8 1433.0,598.5 1434.5,598.8 1436.0,598.3 1437.5,598.9 1439.0,598.5 1440.5,599.8 1442.0,600.0 1443.5,600.1 1445.0,601.1 1446.5,601.2 1448.0,600.2 1449.5,601.7 1451.0,601.4 1452.5,602.8 1454.0,603.8 1455.5,603.0 1457.0,603.7 1458.5,604.1 1460.0,604.9 1461.5,605.6 1463.0,606.5 1464.5,606.3 1466.0,608.1 1467.5,607.9 1469.0,609.3 1470.5,610.6 1472.0,611.4 1473.5,611.9 1475.0,613.4 1476.5,614.9 1478.0,616.9 1479.5,619.5 1481.0,620.9 1482.5,624.1 1484.0,627.0 1485.5,630.2 1487.0,633.7 1488.5,638.1 1490.0,642.2 1491.5,647.6 1493.0,653.6 1494.5,660.3 1496.0,665.0 1497.5,672.3 1499.0,677.1 1500.5,683.0 1502.0,689.6 1503.5,696.6 1505.0,704.9 1506.5,712.8 1508.0,721.3 1509.5,728.7 1511.0,738.0 1512.5,745.7 1514.0,753.8 1515.5,761.9 1517.0,770.3 1518.5,778.6 1520.0,787.4 1521.5,796.2 1523.0,804.8 1524.5,813.0 1526.0,822.2 1527.5,830.7 1529.0,839.9 1530.5,849.4 1532.0,857.9 1533.5,866.9 1535.0,876.0 1536.5,886.4 1538.0,897.8 1539.5,911.0 1541.0,922.9 1542.5,935.4 1544.0,946.7 1545.5,957.4 1547.0,966.6 1548.5,973.7 1550.0,982.0 1551.5,989.1 1553.0,995.3 1554.5,997.4 1556.0,995.1 1557.5,984.0 1559.0,968.1 1560.5,952.2 1562.0,937.9 1563.5,920.1 1565.0,902.8 1566.5,882.4 1568.0,857.4 1569.5,827.4 1571.0,799.5 1572.5,776.1 1574.0,756.0 1575.5,736.4 1577.0,722.8 1578.5,710.1 1580.0,698.5 1581.5,689.0 1583.0,680.7 1584.5,672.1 1586.0,664.5 1587.5,658.1 1589.0,652.6 1590.5,651.9 1592.0,650.4 1593.5,648.4 1595.0,647.3 1596.5,645.6 1598.0,645.9 1599.5,646.0 1601.0,647.1 1602.5,649.5 1604.0,651.0 1605.5,654.1 1607.0,657.2 1608.5,667.1 1610.0,679.2 1611.5,689.5 1613.0,698.1 1614.5,707.2 1616.0,712.5 1617.5,717.1 1619.0,720.9 1620.5,724.9 1622.0,728.0 1623.5,729.9 1625.0,732.0 1626.5,734.8 1628.0,738.4 1629.5,740.6 1631.0,744.6 1632.5,747.5 1634.0,749.9 1635.5,752.8 1637.0,755.4 1638.5,758.0 1640.0,759.3 1641.5,762.6 1643.0,764.2 1644.5,765.8 1646.0,767.3 1647.5,767.3 1649.0,764.7 1650.5,760.3 1652.0,755.2 1653.5,750.3 1655.0,743.1 1656.5,732.7 1658.0,723.9 1659.5,717.9 1661.0,714.3 1662.5,713.8 1664.0,717.6 1665.5,725.4 1667.0,736.2 1668.5,755.9 1670.0,776.4 1671.5,798.4 1673.0,809.9 1674.5,802.0 1676.0,785.0 1677.5,768.3 1679.0,751.0 1680.5,748.5 1682.0,755.7 1683.5,764.8 1685.0,775.5 1686.5,787.3 1688.0,796.4 1689.5,796.9 1691.0,792.3 1692.5,782.3 1694.0,769.3 1695.5,754.0 1697.0,734.4 1698.5,705.5 1700.0,681.5 1701.5,667.2 1703.0,657.2 1704.5,647.8 1706.0,638.8 1707.5,630.9 1709.0,622.2 1710.5,615.9 1712.0,610.3 1713.5,607.3 1715.0,605.4 1716.5,603.4 1718.0,602.2 1719.5,600.8 1721.0,599.7 1722.5,598.8 1724.0,597.2 1725.5,598.9 1727.0,599.5 1728.5,602.7 1730.0,605.9 1731.5,608.3 1733.0,610.2 1734.5,612.2 1736.0,614.3 1737.5,616.1 1739.0,617.9 1740.5,619.1 1742.0,620.8 1743.5,620.5 1745.0,620.3 1746.5,618.8 1748.0,617.5 1749.5,615.8 1751.0,614.4 1752.5,613.1 1754.0,611.6 1755.5,609.8 1757.0,608.3 1758.5,608.1 1760.0,606.9 1761.5,607.2 1763.0,608.9 1764.5,610.4 1766.0,612.4 1767.5,614.7 1769.0,619.4 1770.5,627.9 1772.0,641.6 1773.5,655.1 1775.0,667.5 1776.5,681.3 1778.0,695.7 1779.5,708.4 1781.0,719.1 1782.5,728.6 1784.0,737.8 1785.5,746.9 1787.0,754.9 1788.5,763.9 1790.0,772.1 1791.5,780.8 1793.0,787.8 1794.5,794.8 1796.0,802.2 1797.5,808.5 1799.0,816.9 1800.5,824.3 1802.0,831.9 1803.5,838.8 1805.0,845.7 1806.5,852.4 1808.0,859.3 1809.5,866.5 1811.0,872.4 1812.5,879.8 1814.0,888.3 1815.5,899.6 1817.0,907.5 1818.5,910.3 1820.0,906.2 1821.5,899.0 1823.0,888.8 1824.5,878.7 1826.0,866.2 1827.5,851.8 1829.0,836.8 1830.5,823.4 1832.0,808.5 1833.5,796.0 1835.0,789.2 1836.5,784.3 1838.0,781.0 1839.5,778.3 1841.0,778.3 1842.5,779.9 1844.0,783.0 1845.5,788.6 1847.0,793.0 1848.5,803.3 1850.0,818.0 1851.5,831.7 1853.0,841.2 1854.5,839.8 1856.0,827.0 1857.5,808.2 1859.0,789.8 1860.5,764.3 1862.0,742.9 1863.5,728.9 1865.0,718.1 1866.5,710.2 1868.0,706.6 1869.5,703.7 1871.0,700.8 1872.5,698.6 1874.0,697.1 1875.5,697.1 1877.0,697.9 1878.5,699.7 1880.0,702.7 1881.5,706.9 1883.0,712.0 1884.5,719.1 1886.0,729.2 1887.5,737.6 1889.0,740.0 1890.5,739.5 1892.0,734.9 1893.5,729.7 1895.0,722.1 1896.5,714.2 1898.0,701.8 1899.5,688.3 1901.0,679.8 1902.5,676.9 1904.0,674.1 1905.5,673.4 1907.0,674.4 1908.5,677.7 1910.0,681.2 1911.5,685.2 1913.0,691.9 1914.5,698.1 1916.0,701.2 1917.5,700.4 1919.0,698.4 1920.5,695.9 1922.0,692.1 1923.5,664.7 1925.0,636.7 1926.5,620.5 1928.0,607.5 1929.5,599.6 1931.0,593.4 1932.5,589.6 1934.0,585.9 1935.5,582.6 1937.0,581.9 1938.5,580.8 1940.0,579.8 1941.5,580.4 1943.0,580.8 1944.5,580.2 1946.0,582.1 1947.5,583.1 1949.0,584.6 1950.5,587.0 1952.0,593.8 1953.5,604.8 1955.0,615.7 1956.5,628.5 1958.0,639.0 1959.5,639.1 1961.0,638.9 1962.5,639.0 1964.0,638.1 1965.5,637.4 1967.0,635.4 1968.5,632.7 1970.0,627.6 1971.5,622.0 1973.0,617.0 1974.5,614.9 1976.0,612.2 1977.5,610.3 1979.0,608.6 1980.5,607.5 1982.0,605.7 1983.5,605.2 1985.0,604.0 1986.5,603.1 1988.0,602.3 1989.5,601.7 1991.0,601.1 1992.5,600.3 1994.0,599.1 1995.5,598.0 1997.0,596.2 1998.5,595.0 2000.0,592.9 2001.5,590.8 2003.0,591.4 2004.5,591.0 2006.0,594.0 2007.5,600.5 2009.0,607.2 2010.5,619.9 2012.0,634.1 2013.5,643.2 2015.0,644.2 2016.5,640.3 2018.0,636.0 2019.5,629.0 2021.0,623.3 2022.5,618.8 2024.0,612.5 2025.5,606.9 2027.0,602.4 2028.5,601.9 2030.0,601.2 2031.5,598.9 2033.0,599.4 2034.5,598.2 2036.0,599.2 2037.5,598.6 2039.0,598.8 2040.5,599.9 2042.0,600.4 2043.5,600.9 2045.0,602.4 2046.5,603.0 2048.0,603.6 2049.5,606.3 2051.0,606.9 2052.5,608.6 2054.0,610.9 2055.5,612.3 2057.0,614.6 2058.5,617.3 2060.0,619.7 2061.5,623.0 2063.0,627.0 2064.5,630.0 2066.0,633.7 2067.5,636.0 2069.0,636.6 2070.5,637.9 2072.0,638.0 2073.5,639.2 2075.0,639.5 2076.5,640.1 2078.0,640.6 2079.5,643.4 2081.0,647.6 2082.5,654.4 2084.0,662.0 2085.5,675.8 2087.0,684.2 2088.5,685.5 2090.0,685.6 2091.5,686.7 2093.0,686.7 2094.5,687.9 2096.0,693.6 2097.5,707.9 2099.0,719.6 2100.5,728.6 2102.0,735.6 2103.5,735.3 2105.0,725.6 2106.5,713.7 2108.0,699.3 2109.5,682.5 2111.0,672.2 2112.5,668.8 2114.0,667.8 2115.5,667.0 2117.0,667.7 2118.5,670.7 2120.0,672.2 2121.5,674.3 2123.0,674.8 2124.5,677.7 2126.0,678.9 2127.5,680.2 2129.0,681.8 2130.5,684.0 2132.0,686.2 2133.5,690.9 2135.0,694.8 2136.5,698.8 2138.0,701.7 2139.5,703.1 2141.0,704.0 2142.5,706.0 2144.0,706.7 2145.5,706.9 2147.0,706.3 2148.5,702.2 2150.0,696.9 2151.5,693.0 2153.0,692.5 2154.5,690.6 2156.0,690.9 2157.5,690.7 2159.0,690.6 2160.5,693.5 2162.0,699.9 2163.5,682.8 2165.0,658.3 2166.5,644.0 2168.0,634.1"/>
<path stroke="#1a6ade" d="M212,1010.0 L212,812.9 215.0,813.0 216.5,811.8 218.0,810.2 219.5,811.7 221.0,811.2 222.5,812.3 224.0,808.9 225.5,811.0 227.0,810.5 228.5,808.9 230.0,810.9 231.5,810.5 233.0,809.7 234.5,810.9 236.0,808.0 237.5,810.1 239.0,810.7 240.5,810.4 242.0,811.6 243.5,807.8 245.0,807.2 246.5,809.9 248.0,810.2 249.5,812.7 251.0,810.2 252.5,807.7 254.0,810.3 255.5,807.6 257.0,806.4 258.5,812.9 260.0,809.1 261.5,809.6 263.0,809.3 264.5,811.1 266.0,808.6 267.5,810.0 269.0,806.3 270.5,805.6 272.0,810.0 273.5,810.0 275.0,808.4 276.5,807.8 278.0,807.6 279.5,806.1 281.0,809.5 282.5,808.0 284.0,807.5 285.5,807.1 287.0,807.9 288.5,806.6 290.0,805.3 291.5,800.1 293.0,801.8 294.5,805.6 296.0,803.7 297.5,806.4 299.0,808.9 300.5,809.5 302.0,809.0 303.5,805.4 305.0,808.7 306.5,805.9 308.0,806.3 309.5,808.3 311.0,806.8 312.5,808.4 314.0,811.9 315.5,807.9 317.0,807.6 318.5,804.7 320.0,804.9 321.5,804.0 323.0,804.6 324.5,803.5 326.0,804.1 327.5,804.6 329.0,803.2 330.5,802.4 332.0,802.4 333.5,805.2 335.0,804.6 336.5,806.2 338.0,806.5 339.5,804.6 341.0,806.6 342.5,803.7 344.0,809.9 345.5,808.6 347.0,807.0 348.5,806.0 350.0,808.4 351.5,805.4 353.0,806.8 354.5,807.9 356.0,805.6 357.5,803.4 359.0,803.7 360.5,800.2 362.0,801.3 363.5,800.5 365.0,800.2 366.5,801.8 368.0,800.5 369.5,803.8 371.0,801.6 372.5,804.4 374.0,801.9 375.5,803.9 377.0,802.8 378.5,803.2 380.0,805.0 381.5,806.1 383.0,805.6 384.5,808.4 386.0,808.2 387.5,810.1 389.0,811.6 390.5,813.1 392.0,813.2 393.5,816.5 395.0,817.4 396.5,818.3 398.0,819.4 399.5,820.7 401.0,822.4 402.5,824.7 404.0,826.0 405.5,827.3 407.0,829.2 408.5,831.8 410.0,832.7 411.5,834.4 413.0,837.0 414.5,838.4 416.0,840.0 417.5,841.6 419.0,843.1 420.5,845.2 422.0,847.5 423.5,849.6 425.0,851.9 426.5,854.0 428.0,855.9 429.5,858.0 431.0,859.5 432.5,861.1 434.0,863.7 435.5,865.4 437.0,867.3 438.5,869.3 440.0,870.8 441.5,872.7 443.0,874.9 444.5,876.8 446.0,878.3 447.5,880.5 449.0,882.0 450.5,883.4 452.0,885.6 453.5,888.0 455.0,888.6 456.5,891.0 458.0,892.6 459.5,894.2 461.0,894.7 462.5,897.3 464.0,897.9 465.5,899.1 467.0,900.4 468.5,902.0 470.0,903.1 471.5,904.2 473.0,906.1 474.5,906.5 476.0,907.5 477.5,909.4 479.0,910.5 480.5,911.7 482.0,911.9 483.5,913.8 485.0,914.5 486.5,916.0 488.0,915.7 489.5,917.2 491.0,917.9 492.5,918.2 494.0,919.5 495.5,921.1 497.0,921.4 498.5,922.2 500.0,923.8 501.5,924.7 503.0,925.6 504.5,925.7 506.0,926.8 507.5,927.9 509.0,927.9 510.5,928.4 512.0,929.5 513.5,930.2 515.0,929.3 516.5,928.9 518.0,929.4 519.5,929.5 521.0,929.8 522.5,929.9 524.0,929.4 525.5,928.9 527.0,928.9 528.5,928.1 530.0,928.1 531.5,927.4 533.0,928.2 534.5,927.0 536.0,925.8 537.5,925.2 539.0,924.8 540.5,923.8 542.0,923.5 543.5,922.9 545.0,923.0 546.5,921.8 548.0,920.8 549.5,919.7 551.0,918.8 552.5,918.1 554.0,916.9 555.5,916.2 557.0,914.2 558.5,913.5 560.0,911.9 561.5,910.3 563.0,908.1 564.5,907.0 566.0,906.3 567.5,905.2 569.0,903.3 570.5,902.1 572.0,900.3 573.5,898.9 575.0,897.3 576.5,896.4 578.0,894.5 579.5,892.7 581.0,891.1 582.5,889.8 584.0,888.1 585.5,886.1 587.0,885.6 588.5,883.6 590.0,882.1 591.5,881.5 593.0,880.1 594.5,878.6 596.0,877.8 597.5,876.1 599.0,875.3 600.5,873.7 602.0,874.1 603.5,871.9 605.0,872.1 606.5,870.6 608.0,869.7 609.5,869.1 611.0,868.4 612.5,867.7 614.0,867.4 615.5,865.9 617.0,865.3 618.5,863.8 620.0,863.5 621.5,862.4 623.0,861.2 624.5,860.4 626.0,859.5 627.5,858.7 629.0,857.8 630.5,856.5 632.0,855.5 633.5,855.2 635.0,853.2 636.5,852.7 638.0,852.7 639.5,850.1 641.0,849.9 642.5,849.6 644.0,847.7 645.5,848.6 647.0,845.6 648.5,846.3 650.0,845.5 651.5,844.5 653.0,843.2 654.5,842.6 656.0,841.3 657.5,841.3 659.0,839.8 660.5,839.4 662.0,839.2 663.5,837.7 665.0,837.4 666.5,836.9 668.0,835.7 669.5,836.1 671.0,835.2 672.5,833.8 674.0,833.8 675.5,832.9 677.0,832.3 678.5,831.9 680.0,831.0 681.5,831.0 683.0,829.7 684.5,829.6 686.0,828.5 687.5,828.1 689.0,826.8 690.5,826.0 692.0,824.9 693.5,824.7 695.0,823.8 696.5,823.2 698.0,821.8 699.5,820.3 701.0,819.0 702.5,818.2 704.0,816.9 705.5,816.5 707.0,815.3 708.5,813.6 710.0,812.8 711.5,812.8 713.0,811.6 714.5,810.8 716.0,810.7 717.5,809.5 719.0,809.0 720.5,808.4 722.0,807.3 723.5,807.9 725.0,806.6 726.5,806.3 728.0,805.8 729.5,806.0 731.0,805.2 732.5,804.8 734.0,803.8 735.5,804.0 737.0,803.1 738.5,803.4 740.0,803.1 741.5,802.5 743.0,803.0 744.5,802.0 746.0,801.6 747.5,801.0 749.0,800.5 750.5,800.6 752.0,800.3 753.5,799.1 755.0,799.7 756.5,799.3 758.0,799.3 759.5,799.0 761.0,798.3 762.5,798.4 764.0,799.7 765.5,799.2 767.0,798.7 768.5,799.6 770.0,799.6 771.5,799.3 773.0,799.4 774.5,800.0 776.0,801.1 777.5,801.4 779.0,801.6 780.5,802.2 782.0,802.7 783.5,802.1 785.0,803.3 786.5,803.8 788.0,804.3 789.5,805.3 791.0,806.2 792.5,806.9 794.0,807.2 795.5,808.3 797.0,810.0 798.5,809.5 800.0,809.9 801.5,811.2 803.0,811.8 804.5,812.1 806.0,811.7 807.5,812.7 809.0,812.0 810.5,811.8 812.0,812.0 813.5,812.2 815.0,812.5 816.5,812.4 818.0,812.1 819.5,812.4 821.0,812.0 822.5,812.3 824.0,811.3 825.5,811.1 827.0,812.0 828.5,811.1 830.0,811.5 831.5,811.5 833.0,811.3 834.5,811.2 836.0,811.9 837.5,810.3 839.0,811.7 840.5,812.2 842.0,811.3 843.5,811.4 845.0,811.9 846.5,812.7 848.0,812.0 849.5,813.2 851.0,813.8 852.5,814.9 854.0,815.6 855.5,816.7 857.0,818.1 858.5,821.3 860.0,824.5 861.5,828.2 863.0,831.7 864.5,834.0 866.0,834.5 867.5,834.4 869.0,830.7 870.5,826.4 872.0,824.0 873.5,821.1 875.0,820.1 876.5,818.5 878.0,817.4 879.5,816.3 881.0,815.0 882.5,814.4 884.0,814.4 885.5,811.9 887.0,812.1 888.5,811.5 890.0,810.2 891.5,809.4 893.0,810.2 894.5,808.7 896.0,809.3 897.5,808.4 899.0,808.1 900.5,808.2 902.0,808.4 903.5,808.8 905.0,808.8 906.5,809.1 908.0,809.6 909.5,810.5 911.0,810.7 912.5,810.5 914.0,811.0 915.5,812.0 917.0,812.2 918.5,813.0 920.0,813.4 921.5,814.3 923.0,815.1 924.5,815.7 926.0,815.6 927.5,816.5 929.0,815.5 930.5,816.5 932.0,815.1 933.5,814.4 935.0,813.4 936.5,811.9 938.0,812.4 939.5,812.2 941.0,812.6 942.5,811.1 944.0,812.2 945.5,811.1 947.0,811.3 948.5,809.9 950.0,810.8 951.5,810.4 953.0,810.7 954.5,810.3 956.0,809.7 957.5,810.3 959.0,810.0 960.5,809.8 962.0,809.8 963.5,809.7 965.0,809.0 966.5,808.3 968.0,808.1 969.5,809.0 971.0,808.6 972.5,808.2 974.0,807.8 975.5,807.9 977.0,807.7 978.5,807.5 980.0,807.2 981.5,808.3 983.0,807.4 984.5,807.0 986.0,806.7 987.5,806.9 989.0,807.5 990.5,807.5 992.0,807.2 993.5,807.3 995.0,807.3 996.5,807.0 998.0,808.1 999.5,807.8 1001.0,808.8 1002.5,807.6 1004.0,808.0 1005.5,808.6 1007.0,808.3 1008.5,808.0 1010.0,808.4 1011.5,809.0 1013.0,809.2 1014.5,809.2 1016.0,809.9 1017.5,810.1 1019.0,810.0 1020.5,810.0 1022.0,810.1 1023.5,810.6 1025.0,810.9 1026.5,810.8 1028.0,811.1 1029.5,810.9 1031.0,810.6 1032.5,810.9 1034.0,811.8 1035.5,811.8 1037.0,812.5 1038.5,812.0 1040.0,812.5 1041.5,812.9 1043.0,812.9 1044.5,812.5 1046.0,812.8 1047.5,813.1 1049.0,812.9 1050.5,813.6 1052.0,814.0 1053.5,813.6 1055.0,814.7 1056.5,813.9 1058.0,814.1 1059.5,814.2 1061.0,814.1 1062.5,814.7 1064.0,814.6 1065.5,815.3 1067.0,814.9 1068.5,814.9 1070.0,814.6 1071.5,814.1 1073.0,814.7 1074.5,814.3 1076.0,815.1 1077.5,814.7 1079.0,815.3 1080.5,814.9 1082.0,815.0 1083.5,814.7 1085.0,814.7 1086.5,814.8 1088.0,814.9 1089.5,814.2 1091.0,814.7 1092.5,815.5 1094.0,814.4 1095.5,814.3 1097.0,814.1 1098.5,813.8 1100.0,814.8 1101.5,814.3 1103.0,814.4 1104.5,815.0 1106.0,815.2 1107.5,813.8 1109.0,814.6 1110.5,814.3 1112.0,814.2 1113.5,814.2 1115.0,814.0 1116.5,814.6 1118.0,814.2 1119.5,814.0 1121.0,814.3 1122.5,814.2 1124.0,813.9 1125.5,813.8 1127.0,814.4 1128.5,813.8 1130.0,813.6 1131.5,813.2 1133.0,813.4 1134.5,813.1 1136.0,813.5 1137.5,813.5 1139.0,812.5 1140.5,813.3 1142.0,813.5 1143.5,813.2 1145.0,812.7 1146.5,813.5 1148.0,812.7 1149.5,812.4 1151.0,812.4 1152.5,812.7 1154.0,813.1 1155.5,813.1 1157.0,812.6 1158.5,812.0 1160.0,812.1 1161.5,812.0 1163.0,812.2 1164.5,811.5 1166.0,812.1 1167.5,812.3 1169.0,811.9 1170.5,812.1 1172.0,811.4 1173.5,811.2 1175.0,811.4 1176.5,812.1 1178.0,812.0 1179.5,811.3 1181.0,811.9 1182.5,811.2 1184.0,811.9 1185.5,811.4 1187.0,811.0 1188.5,811.4 1190.0,810.7 1191.5,810.6 1193.0,810.4 1194.5,811.0 1196.0,810.8 1197.5,810.7 1199.0,810.5 1200.5,811.2 1202.0,810.4 1203.5,810.2 1205.0,810.9 1206.5,810.9 1208.0,810.4 1209.5,809.5 1211.0,809.9 1212.5,810.3 1214.0,810.0 1215.5,810.5 1217.0,809.3 1218.5,810.1 1220.0,809.5 1221.5,810.2 1223.0,809.6 1224.5,810.0 1226.0,809.3 1227.5,808.9 1229.0,809.0 1230.5,809.1 1232.0,808.9 1233.5,809.8 1235.0,809.8 1236.5,809.3 1238.0,808.7 1239.5,809.1 1241.0,808.8 1242.5,809.7 1244.0,809.2 1245.5,809.2 1247.0,808.9 1248.5,808.2 1250.0,808.7 1251.5,808.6 1253.0,809.1 1254.5,809.0 1256.0,808.7 1257.5,808.8 1259.0,809.6 1260.5,808.6 1262.0,808.6 1263.5,808.9 1265.0,808.7 1266.5,808.8 1268.0,809.2 1269.5,809.7 1271.0,808.3 1272.5,809.0 1274.0,809.0 1275.5,809.5 1277.0,810.6 1278.5,812.1 1280.0,814.3 1281.5,815.5 1283.0,817.2 1284.5,818.5 1286.0,819.3 1287.5,819.9 1289.0,821.0 1290.5,821.2 1292.0,821.8 1293.5,822.1 1295.0,822.0 1296.5,822.0 1298.0,821.7 1299.5,821.6 1301.0,820.5 1302.5,819.5 1304.0,818.9 1305.5,818.0 1307.0,816.0 1308.5,816.2 1310.0,814.0 1311.5,812.2 1313.0,810.8 1314.5,808.5 1316.0,806.6 1317.5,806.3 1319.0,804.1 1320.5,803.8 1322.0,803.6 1323.5,802.2 1325.0,802.0 1326.5,801.7 1328.0,802.0 1329.5,800.2 1331.0,800.1 1332.5,799.9 1334.0,799.3 1335.5,798.5 1337.0,798.8 1338.5,798.5 1340.0,798.4 1341.5,798.5 1343.0,798.3 1344.5,798.0 1346.0,797.9 1347.5,797.4 1349.0,797.8 1350.5,797.9 1352.0,797.7 1353.5,797.9 1355.0,797.6 1356.5,798.5 1358.0,798.8 1359.5,797.8 1361.0,798.2 1362.5,798.0 1364.0,798.6 1365.5,798.3 1367.0,798.2 1368.5,798.2 1370.0,798.4 1371.5,798.0 1373.0,798.7 1374.5,798.2 1376.0,798.8 1377.5,798.7 1379.0,799.2 1380.5,798.8 1382.0,799.4 1383.5,798.7 1385.0,799.5 1386.5,799.4 1388.0,799.8 1389.5,800.0 1391.0,800.7 1392.5,799.8 1394.0,801.1 1395.5,800.7 1397.0,802.1 1398.5,801.1 1400.0,801.8 1401.5,801.9 1403.0,803.5 1404.5,802.6 1406.0,803.4 1407.5,803.4 1409.0,803.1 1410.5,803.8 1412.0,804.4 1413.5,804.3 1415.0,804.9 1416.5,804.5 1418.0,804.8 1419.5,804.8 1421.0,805.3 1422.5,806.0 1424.0,805.6 1425.5,805.7 1427.0,805.6 1428.5,805.7 1430.0,806.9 1431.5,806.1 1433.0,806.4 1434.5,807.1 1436.0,807.3 1437.5,808.8 1439.0,807.6 1440.5,809.3 1442.0,810.0 1443.5,809.9 1445.0,810.6 1446.5,811.6 1448.0,812.8 1449.5,812.4 1451.0,812.7 1452.5,814.4 1454.0,815.2 1455.5,815.0 1457.0,814.8 1458.5,816.8 1460.0,816.5 1461.5,817.5 1463.0,817.4 1464.5,817.7 1466.0,818.0 1467.5,819.3 1469.0,819.7 1470.5,818.9 1472.0,820.0 1473.5,821.8 1475.0,821.8 1476.5,822.4 1478.0,824.0 1479.5,825.3 1481.0,827.0 1482.5,828.9 1484.0,831.2 1485.5,833.8 1487.0,837.2 1488.5,840.1 1490.0,843.8 1491.5,847.7 1493.0,852.3 1494.5,856.2 1496.0,860.8 1497.5,866.7 1499.0,872.8 1500.5,879.1 1502.0,884.9 1503.5,891.8 1505.0,898.5 1506.5,906.8 1508.0,917.7 1509.5,929.1 1511.0,938.2 1512.5,946.6 1514.0,954.2 1515.5,961.8 1517.0,970.2 1518.5,977.7 1520.0,984.4 1521.5,989.8 1523.0,996.9 1524.5,1002.6 1526.0,1009.9 1527.5,1017.8 1529.0,1026.3 1530.5,1036.3 1532.0,1046.5 1533.5,1058.3 1535.0,1069.7 1536.5,1082.6 1538.0,1096.0 1539.5,1111.0 1541.0,1125.2 1542.5,1137.8 1544.0,1148.7 1545.5,1158.1 1547.0,1167.3 1548.5,1174.6 1550.0,1179.6 1551.5,1184.4 1553.0,1188.2 1554.5,1190.2 1556.0,1190.0 1557.5,1186.2 1559.0,1179.2 1560.5,1169.8 1562.0,1151.6 1563.5,1130.4 1565.0,1107.4 1566.5,1084.6 1568.0,1060.3 1569.5,1026.8 1571.0,976.9 1572.5,950.3 1574.0,932.4 1575.5,919.4 1577.0,906.6 1578.5,896.7 1580.0,888.5 1581.5,879.6 1583.0,872.2 1584.5,864.5 1586.0,857.1 1587.5,851.4 1589.0,847.1 1590.5,843.7 1592.0,841.8 1593.5,840.2 1595.0,838.6 1596.5,836.8 1598.0,837.2 1599.5,837.9 1601.0,840.6 1602.5,842.7 1604.0,845.6 1605.5,848.4 1607.0,852.9 1608.5,864.6 1610.0,878.7 1611.5,889.5 1613.0,897.1 1614.5,903.6 1616.0,908.8 1617.5,913.1 1619.0,917.0 1620.5,921.6 1622.0,925.4 1623.5,928.6 1625.0,931.6 1626.5,934.6 1628.0,938.1 1629.5,940.8 1631.0,943.9 1632.5,946.6 1634.0,950.2 1635.5,954.0 1637.0,956.8 1638.5,959.6 1640.0,962.3 1641.5,964.8 1643.0,966.3 1644.5,968.4 1646.0,968.7 1647.5,968.8 1649.0,967.2 1650.5,965.2 1652.0,962.6 1653.5,958.1 1655.0,949.6 1656.5,934.2 1658.0,919.5 1659.5,912.4 1661.0,907.8 1662.5,904.7 1664.0,903.5 1665.5,905.5 1667.0,910.6 1668.5,918.1 1670.0,931.8 1671.5,975.1 1673.0,1004.4 1674.5,997.4 1676.0,986.2 1677.5,974.9 1679.0,958.4 1680.5,951.8 1682.0,966.7 1683.5,993.3 1685.0,1015.3 1686.5,1020.9 1688.0,1016.0 1689.5,1006.8 1691.0,996.0 1692.5,980.6 1694.0,953.6 1695.5,922.6 1697.0,902.5 1698.5,885.9 1700.0,872.3 1701.5,861.2 1703.0,851.5 1704.5,844.4 1706.0,837.3 1707.5,831.6 1709.0,826.1 1710.5,821.8 1712.0,817.5 1713.5,814.2 1715.0,811.0 1716.5,810.0 1718.0,808.7 1719.5,807.1 1721.0,806.4 1722.5,805.6 1724.0,805.8 1725.5,804.3 1727.0,806.3 1728.5,808.7 1730.0,812.8 1731.5,816.8 1733.0,818.6 1734.5,820.5 1736.0,821.6 1737.5,824.2 1739.0,825.0 1740.5,826.2 1742.0,826.0 1743.5,826.7 1745.0,827.7 1746.5,826.9 1748.0,826.1 1749.5,825.2 1751.0,823.3 1752.5,822.9 1754.0,821.5 1755.5,820.9 1757.0,820.2 1758.5,821.0 1760.0,821.4 1761.5,823.3 1763.0,825.1 1764.5,827.0 1766.0,829.2 1767.5,832.0 1769.0,836.1 1770.5,845.4 1772.0,854.2 1773.5,863.9 1775.0,874.0 1776.5,885.4 1778.0,898.6 1779.5,912.0 1781.0,924.9 1782.5,935.4 1784.0,945.9 1785.5,957.2 1787.0,966.2 1788.5,977.3 1790.0,986.3 1791.5,995.9 1793.0,1006.9 1794.5,1018.2 1796.0,1028.3 1797.5,1040.8 1799.0,1051.0 1800.5,1061.9 1802.0,1070.2 1803.5,1077.3 1805.0,1083.8 1806.5,1088.5 1808.0,1093.4 1809.5,1098.4 1811.0,1103.4 1812.5,1108.0 1814.0,1111.6 1815.5,1113.7 1817.0,1113.1 1818.5,1110.6 1820.0,1105.1 1821.5,1099.9 1823.0,1092.3 1824.5,1084.7 1826.0,1066.5 1827.5,1041.8 1829.0,1020.8 1830.5,1006.6 1832.0,995.7 1833.5,986.3 1835.0,981.4 1836.5,975.8 1838.0,970.7 1839.5,968.5 1841.0,968.7 1842.5,972.0 1844.0,977.8 1845.5,984.2 1847.0,990.7 1848.5,998.2 1850.0,1006.8 1851.5,1013.2 1853.0,1016.5 1854.5,1013.6 1856.0,1001.5 1857.5,987.9 1859.0,971.4 1860.5,950.4 1862.0,932.7 1863.5,919.2 1865.0,907.9 1866.5,899.3 1868.0,895.1 1869.5,892.2 1871.0,889.6 1872.5,887.3 1874.0,886.2 1875.5,884.8 1877.0,885.6 1878.5,888.4 1880.0,891.5 1881.5,895.5 1883.0,899.6 1884.5,908.0 1886.0,916.1 1887.5,924.1 1889.0,926.4 1890.5,926.0 1892.0,921.4 1893.5,916.8 1895.0,910.0 1896.5,904.3 1898.0,895.9 1899.5,885.8 1901.0,881.0 1902.5,879.4 1904.0,877.6 1905.5,878.2 1907.0,878.8 1908.5,881.1 1910.0,885.7 1911.5,889.0 1913.0,894.0 1914.5,899.4 1916.0,901.3 1917.5,901.8 1919.0,898.0 1920.5,895.2 1922.0,890.2 1923.5,865.0 1925.0,843.8 1926.5,835.1 1928.0,827.8 1929.5,822.8 1931.0,818.5 1932.5,813.8 1934.0,810.1 1935.5,806.9 1937.0,806.5 1938.5,804.9 1940.0,804.7 1941.5,804.7 1943.0,804.5 1944.5,806.5 1946.0,807.5 1947.5,808.9 1949.0,810.0 1950.5,813.2 1952.0,822.3 1953.5,835.5 1955.0,847.2 1956.5,859.1 1958.0,867.4 1959.5,867.8 1961.0,866.7 1962.5,866.3 1964.0,864.4 1965.5,861.5 1967.0,860.5 1968.5,857.9 1970.0,854.5 1971.5,849.7 1973.0,845.4 1974.5,841.5 1976.0,839.3 1977.5,836.4 1979.0,834.1 1980.5,832.0 1982.0,830.5 1983.5,828.1 1985.0,825.5 1986.5,824.2 1988.0,821.2 1989.5,819.0 1991.0,816.6 1992.5,814.6 1994.0,812.5 1995.5,810.2 1997.0,808.9 1998.5,807.0 2000.0,806.9 2001.5,805.4 2003.0,805.2 2004.5,804.6 2006.0,807.5 2007.5,815.2 2009.0,822.0 2010.5,834.5 2012.0,850.8 2013.5,862.1 2015.0,862.1 2016.5,857.3 2018.0,852.3 2019.5,844.8 2021.0,838.4 2022.5,832.1 2024.0,823.5 2025.5,815.2 2027.0,809.1 2028.5,807.6 2030.0,805.9 2031.5,804.1 2033.0,802.5 2034.5,801.9 2036.0,801.5 2037.5,802.2 2039.0,802.8 2040.5,803.3 2042.0,803.3 2043.5,804.4 2045.0,805.4 2046.5,805.9 2048.0,807.0 2049.5,809.1 2051.0,809.8 2052.5,811.8 2054.0,813.3 2055.5,815.6 2057.0,817.2 2058.5,820.1 2060.0,823.0 2061.5,826.2 2063.0,829.2 2064.5,832.4 2066.0,835.1 2067.5,836.8 2069.0,837.8 2070.5,838.7 2072.0,838.5 2073.5,839.4 2075.0,839.0 2076.5,839.2 2078.0,840.2 2079.5,841.9 2081.0,846.3 2082.5,852.9 2084.0,858.9 2085.5,869.2 2087.0,875.3 2088.5,876.6 2090.0,876.6 2091.5,877.8 2093.0,878.1 2094.5,879.1 2096.0,884.5 2097.5,897.3 2099.0,908.8 2100.5,918.7 2102.0,926.0 2103.5,925.5 2105.0,915.7 2106.5,902.5 2108.0,889.1 2109.5,872.7 2111.0,863.3 2112.5,860.0 2114.0,858.2 2115.5,857.8 2117.0,858.1 2118.5,859.5 2120.0,862.3 2121.5,863.9 2123.0,866.0 2124.5,868.7 2126.0,871.2 2127.5,872.6 2129.0,875.3 2130.5,877.1 2132.0,880.0 2133.5,883.5 2135.0,888.4 2136.5,894.4 2138.0,898.2 2139.5,903.7 2141.0,907.3 2142.5,911.6 2144.0,913.7 2145.5,911.6 2147.0,906.8 2148.5,900.4 2150.0,896.6 2151.5,894.1 2153.0,894.6 2154.5,892.7 2156.0,892.2 2157.5,891.2 2159.0,891.3 2160.5,894.3 2162.0,900.4 2163.5,891.6 2165.0,875.0 2166.5,860.0 2168.0,847.8 2168.7,843.0"/>
<path stroke="#ff0000" d="M212,1573.0 L212,1011.4 215.0,1009.9 216.5,1013.3 218.0,1010.6 219.5,1011.6 221.0,1013.6 222.5,1010.6 224.0,1013.1 225.5,1010.5 227.0,1013.7 228.5,1013.3 230.0,1010.2 231.5,1010.4 233.0,1009.2 234.5,1010.7 236.0,1012.0 237.5,1007.6 239.0,1011.2 240.5,1007.4 242.0,1007.9 243.5,1006.2 245.0,1012.2 246.5,1008.7 248.0,1008.8 249.5,1007.1 251.0,1009.7 252.5,1004.4 254.0,1007.6 255.5,1010.8 257.0,1006.5 258.5,1006.9 260.0,1007.7 261.5,1005.1 263.0,1006.3 264.5,1007.5 266.0,1006.1 267.5,1006.1 269.0,1004.7 270.5,1005.5 272.0,1004.8 273.5,1006.8 275.0,1005.3 276.5,1003.4 278.0,999.6 279.5,1004.3 281.0,1004.0 282.5,1000.9 284.0,998.7 285.5,999.5 287.0,1002.1 288.5,997.7 290.0,994.5 291.5,990.7 293.0,990.0 294.5,990.5 296.0,995.5 297.5,998.7 299.0,1002.7 300.5,1002.0 302.0,1000.3 303.5,998.4 305.0,999.4 306.5,1001.7 308.0,999.7 309.5,1002.3 311.0,1001.5 312.5,1001.5 314.0,1002.0 315.5,1001.8 317.0,999.4 318.5,999.7 320.0,1003.2 321.5,996.6 323.0,996.7 324.5,998.1 326.0,995.0 327.5,992.9 329.0,991.0 330.5,993.1 332.0,993.2 333.5,993.4 335.0,991.1 336.5,992.7 338.0,989.5 339.5,991.5 341.0,990.3 342.5,991.9 344.0,993.0 345.5,993.7 347.0,991.5 348.5,996.0 350.0,994.6 351.5,994.5 353.0,995.2 354.5,991.0 356.0,989.7 357.5,987.6 359.0,984.6 360.5,983.1 362.0,980.2 363.5,979.5 365.0,977.9 366.5,980.2 368.0,980.1 369.5,981.6 371.0,983.0 372.5,984.0 374.0,982.7 375.5,983.2 377.0,984.5 378.5,985.4 380.0,985.6 381.5,986.4 383.0,987.4 384.5,989.6 386.0,993.3 387.5,997.0 389.0,1000.4 390.5,1003.0 392.0,1005.4 393.5,1007.0 395.0,1008.4 396.5,1009.9 398.0,1011.8 399.5,1013.3 401.0,1015.4 402.5,1017.8 404.0,1020.6 405.5,1024.7 407.0,1030.1 408.5,1035.0 410.0,1039.3 411.5,1043.0 413.0,1047.2 414.5,1048.9 416.0,1051.7 417.5,1054.5 419.0,1056.6 420.5,1060.0 422.0,1063.8 423.5,1067.2 425.0,1071.3 426.5,1076.2 428.0,1081.2 429.5,1086.9 431.0,1091.9 432.5,1097.1 434.0,1102.4 435.5,1108.0 437.0,1113.1 438.5,1118.6 440.0,1122.9 441.5,1129.6 443.0,1135.3 444.5,1140.1 446.0,1144.5 447.5,1149.0 449.0,1154.0 450.5,1157.8 452.0,1162.6 453.5,1166.1 455.0,1170.5 456.5,1174.4 458.0,1176.7 459.5,1181.2 461.0,1184.3 462.5,1187.4 464.0,1191.1 465.5,1194.5 467.0,1198.2 468.5,1200.3 470.0,1204.4 471.5,1207.9 473.0,1210.3 474.5,1213.2 476.0,1215.9 477.5,1218.3 479.0,1221.8 480.5,1224.5 482.0,1227.3 483.5,1230.7 485.0,1232.5 486.5,1234.9 488.0,1237.8 489.5,1238.9 491.0,1241.3 492.5,1243.8 494.0,1246.0 495.5,1248.7 497.0,1250.4 498.5,1253.3 500.0,1255.2 501.5,1256.8 503.0,1258.2 504.5,1260.3 506.0,1262.0 507.5,1262.7 509.0,1264.7 510.5,1266.3 512.0,1267.6 513.5,1269.5 515.0,1270.6 516.5,1270.6 518.0,1271.5 519.5,1271.3 521.0,1271.7 522.5,1270.9 524.0,1271.3 525.5,1270.6 527.0,1270.4 528.5,1269.3 530.0,1268.2 531.5,1268.8 533.0,1267.3 534.5,1267.2 536.0,1265.9 537.5,1264.8 539.0,1263.9 540.5,1261.8 542.0,1260.4 543.5,1257.3 545.0,1256.2 546.5,1253.6 548.0,1251.4 549.5,1249.2 551.0,1246.9 552.5,1245.1 554.0,1241.3 555.5,1239.8 557.0,1236.9 558.5,1235.0 560.0,1231.6 561.5,1229.0 563.0,1225.7 564.5,1223.0 566.0,1220.0 567.5,1216.3 569.0,1213.3 570.5,1209.5 572.0,1207.0 573.5,1204.1 575.0,1200.5 576.5,1198.1 578.0,1193.7 579.5,1190.6 581.0,1187.5 582.5,1184.6 584.0,1181.6 585.5,1178.3 587.0,1175.2 588.5,1172.4 590.0,1168.9 591.5,1165.7 593.0,1162.9 594.5,1161.7 596.0,1157.4 597.5,1155.9 599.0,1154.3 600.5,1151.7 602.0,1149.0 603.5,1147.3 605.0,1145.6 606.5,1143.8 608.0,1141.0 609.5,1139.8 611.0,1137.8 612.5,1136.4 614.0,1134.8 615.5,1132.5 617.0,1130.5 618.5,1129.7 620.0,1128.9 621.5,1127.0 623.0,1125.5 624.5,1125.0 626.0,1122.2 627.5,1121.7 629.0,1119.7 630.5,1118.5 632.0,1117.1 633.5,1116.2 635.0,1113.6 636.5,1112.2 638.0,1110.0 639.5,1109.1 641.0,1106.8 642.5,1105.1 644.0,1102.4 645.5,1100.4 647.0,1098.7 648.5,1095.9 650.0,1093.8 651.5,1091.4 653.0,1088.7 654.5,1085.8 656.0,1084.5 657.5,1082.0 659.0,1080.1 660.5,1076.8 662.0,1074.8 663.5,1072.6 665.0,1071.0 666.5,1069.8 668.0,1067.6 669.5,1065.3 671.0,1063.4 672.5,1061.7 674.0,1059.3 675.5,1057.6 677.0,1055.6 678.5,1052.7 680.0,1051.5 681.5,1050.2 683.0,1047.5 684.5,1045.5 686.0,1043.2 687.5,1041.2 689.0,1039.8 690.5,1037.1 692.0,1034.8 693.5,1031.9 695.0,1030.9 696.5,1028.4 698.0,1026.6 699.5,1025.8 701.0,1024.1 702.5,1021.4 704.0,1020.9 705.5,1019.3 707.0,1017.5 708.5,1016.9 710.0,1014.7 711.5,1013.7 713.0,1012.4 714.5,1011.4 716.0,1011.2 717.5,1009.3 719.0,1008.4 720.5,1007.6 722.0,1007.2 723.5,1006.2 725.0,1005.9 726.5,1004.6 728.0,1003.8 729.5,1003.5 731.0,1003.1 732.5,1002.1 734.0,1002.0 735.5,1002.1 737.0,1000.5 738.5,1000.2 740.0,1000.2 741.5,998.9 743.0,998.4 744.5,997.9 746.0,998.0 747.5,997.7 749.0,997.1 750.5,996.9 752.0,997.2 753.5,996.8 755.0,995.8 756.5,996.3 758.0,996.3 759.5,996.7 761.0,996.4 762.5,996.5 764.0,996.9 765.5,996.7 767.0,997.8 768.5,998.0 770.0,998.9 771.5,998.8 773.0,999.5 774.5,999.8 776.0,1000.3 777.5,1001.6 779.0,1001.7 780.5,1002.9 782.0,1003.1 783.5,1004.6 785.0,1005.0 786.5,1006.5 788.0,1007.6 789.5,1009.0 791.0,1009.8 792.5,1010.5 794.0,1011.6 795.5,1011.9 797.0,1012.6 798.5,1013.2 800.0,1013.3 801.5,1013.7 803.0,1014.4 804.5,1014.4 806.0,1014.9 807.5,1015.3 809.0,1015.2 810.5,1014.3 812.0,1013.4 813.5,1013.2 815.0,1012.3 816.5,1011.9 818.0,1010.4 819.5,1009.6 821.0,1009.2 822.5,1008.2 824.0,1008.0 825.5,1008.7 827.0,1008.6 828.5,1008.3 830.0,1008.3 831.5,1007.9 833.0,1008.6 834.5,1008.6 836.0,1008.8 837.5,1008.8 839.0,1009.2 840.5,1009.4 842.0,1009.9 843.5,1010.8 845.0,1011.2 846.5,1011.5 848.0,1013.2 849.5,1014.6 851.0,1017.0 852.5,1019.8 854.0,1022.3 855.5,1026.5 857.0,1033.6 858.5,1041.2 860.0,1049.4 861.5,1061.9 863.0,1075.2 864.5,1079.0 866.0,1071.2 867.5,1063.0 869.0,1056.0 870.5,1048.7 872.0,1042.9 873.5,1037.8 875.0,1033.6 876.5,1029.8 878.0,1026.0 879.5,1023.3 881.0,1020.7 882.5,1018.0 884.0,1016.1 885.5,1014.6 887.0,1013.5 888.5,1011.8 890.0,1011.3 891.5,1010.2 893.0,1008.9 894.5,1009.3 896.0,1007.3 897.5,1006.8 899.0,1006.8 900.5,1005.7 902.0,1006.1 903.5,1005.9 905.0,1006.6 906.5,1007.6 908.0,1008.7 909.5,1010.0 911.0,1011.0 912.5,1012.3 914.0,1013.2 915.5,1013.8 917.0,1015.4 918.5,1015.8 920.0,1016.9 921.5,1019.0 923.0,1020.0 924.5,1021.0 926.0,1022.2 927.5,1023.1 929.0,1022.6 930.5,1023.2 932.0,1021.9 933.5,1020.9 935.0,1018.6 936.5,1017.3 938.0,1015.1 939.5,1013.2 941.0,1012.9 942.5,1012.3 944.0,1012.6 945.5,1012.6 947.0,1012.3 948.5,1011.3 950.0,1011.7 951.5,1011.9 953.0,1011.7 954.5,1012.0 956.0,1010.9 957.5,1011.5 959.0,1010.9 960.5,1011.2 962.0,1011.2 963.5,1011.3 965.0,1010.7 966.5,1011.0 968.0,1010.4 969.5,1010.3 971.0,1011.0 972.5,1010.8 974.0,1010.1 975.5,1010.4 977.0,1010.8 978.5,1011.4 980.0,1011.2 981.5,1011.2 983.0,1010.2 984.5,1010.9 986.0,1011.2 987.5,1011.2 989.0,1011.2 990.5,1011.0 992.0,1011.9 993.5,1011.9 995.0,1011.3 996.5,1011.0 998.0,1012.3 999.5,1011.3 1001.0,1012.2 1002.5,1012.6 1004.0,1011.6 1005.5,1012.3 1007.0,1012.2 1008.5,1012.8 1010.0,1013.0 1011.5,1013.9 1013.0,1013.6 1014.5,1013.6 1016.0,1014.4 1017.5,1014.1 1019.0,1014.3 1020.5,1015.6 1022.0,1014.7 1023.5,1015.1 1025.0,1015.6 1026.5,1015.4 1028.0,1015.2 1029.5,1016.7 1031.0,1016.1 1032.5,1016.4 1034.0,1016.7 1035.5,1016.6 1037.0,1016.8 1038.5,1017.5 1040.0,1018.6 1041.5,1018.1 1043.0,1018.3 1044.5,1017.6 1046.0,1018.4 1047.5,1018.1 1049.0,1019.1 1050.5,1018.9 1052.0,1019.1 1053.5,1019.2 1055.0,1019.2 1056.5,1018.9 1058.0,1019.9 1059.5,1019.2 1061.0,1019.4 1062.5,1019.8 1064.0,1019.7 1065.5,1020.1 1067.0,1020.4 1068.5,1020.1 1070.0,1020.1 1071.5,1020.0 1073.0,1020.3 1074.5,1019.2 1076.0,1020.1 1077.5,1019.6 1079.0,1019.5 1080.5,1020.0 1082.0,1019.8 1083.5,1020.2 1085.0,1020.4 1086.5,1019.0 1088.0,1019.9 1089.5,1020.8 1091.0,1020.3 1092.5,1020.4 1094.0,1019.7 1095.5,1018.9 1097.0,1018.7 1098.5,1019.2 1100.0,1018.9 1101.5,1017.9 1103.0,1017.7 1104.5,1017.5 1106.0,1016.3 1107.5,1016.5 1109.0,1016.9 1110.5,1016.8 1112.0,1015.6 1113.5,1016.0 1115.0,1014.9 1116.5,1014.6 1118.0,1013.8 1119.5,1015.0 1121.0,1014.4 1122.5,1015.4 1124.0,1014.5 1125.5,1014.3 1127.0,1013.4 1128.5,1014.7 1130.0,1013.8 1131.5,1013.7 1133.0,1012.7 1134.5,1013.7 1136.0,1013.0 1137.5,1011.5 1139.0,1011.0 1140.5,1011.0 1142.0,1012.1 1143.5,1013.2 1145.0,1015.2 1146.5,1015.3 1148.0,1015.2 1149.5,1015.3 1151.0,1014.4 1152.5,1015.0 1154.0,1015.7 1155.5,1015.3 1157.0,1014.8 1158.5,1015.2 1160.0,1014.1 1161.5,1014.7 1163.0,1014.9 1164.5,1014.8 1166.0,1014.1 1167.5,1014.7 1169.0,1014.9 1170.5,1013.9 1172.0,1014.2 1173.5,1013.1 1175.0,1012.8 1176.5,1013.7 1178.0,1013.4 1179.5,1013.3 1181.0,1012.9 1182.5,1012.9 1184.0,1013.3 1185.5,1013.6 1187.0,1012.7 1188.5,1012.1 1190.0,1013.2 1191.5,1012.9 1193.0,1012.8 1194.5,1012.6 1196.0,1013.3 1197.5,1012.4 1199.0,1012.5 1200.5,1011.5 1202.0,1011.9 1203.5,1011.8 1205.0,1012.0 1206.5,1012.1 1208.0,1011.6 1209.5,1012.5 1211.0,1011.4 1212.5,1011.5 1214.0,1011.8 1215.5,1011.1 1217.0,1011.8 1218.5,1011.7 1220.0,1011.3 1221.5,1012.1 1223.0,1011.3 1224.5,1011.3 1226.0,1010.7 1227.5,1010.3 1229.0,1010.7 1230.5,1010.7 1232.0,1010.6 1233.5,1011.0 1235.0,1009.7 1236.5,1010.1 1238.0,1009.7 1239.5,1010.9 1241.0,1010.1 1242.5,1010.0 1244.0,1009.7 1245.5,1010.4 1247.0,1009.8 1248.5,1010.0 1250.0,1009.0 1251.5,1010.3 1253.0,1009.9 1254.5,1009.9 1256.0,1010.0 1257.5,1009.4 1259.0,1009.3 1260.5,1009.6 1262.0,1009.4 1263.5,1009.0 1265.0,1009.1 1266.5,1008.8 1268.0,1009.2 1269.5,1009.2 1271.0,1008.8 1272.5,1009.6 1274.0,1008.2 1275.5,1008.8 1277.0,1010.7 1278.5,1012.0 1280.0,1014.4 1281.5,1018.8 1283.0,1021.5 1284.5,1023.3 1286.0,1026.0 1287.5,1026.9 1289.0,1028.5 1290.5,1030.5 1292.0,1031.7 1293.5,1032.4 1295.0,1033.2 1296.5,1032.8 1298.0,1032.6 1299.5,1031.4 1301.0,1030.2 1302.5,1028.1 1304.0,1026.1 1305.5,1024.6 1307.0,1023.7 1308.5,1023.2 1310.0,1021.6 1311.5,1019.6 1313.0,1018.7 1314.5,1016.1 1316.0,1015.0 1317.5,1011.1 1319.0,1007.3 1320.5,1003.1 1322.0,1000.0 1323.5,999.5 1325.0,998.4 1326.5,998.3 1328.0,998.3 1329.5,999.1 1331.0,997.4 1332.5,996.9 1334.0,996.1 1335.5,996.7 1337.0,995.4 1338.5,995.6 1340.0,996.0 1341.5,995.2 1343.0,996.3 1344.5,996.0 1346.0,995.4 1347.5,995.4 1349.0,995.1 1350.5,995.1 1352.0,995.9 1353.5,996.0 1355.0,996.0 1356.5,996.0 1358.0,995.8 1359.5,996.2 1361.0,995.6 1362.5,996.3 1364.0,997.0 1365.5,997.1 1367.0,996.5 1368.5,996.7 1370.0,997.5 1371.5,997.8 1373.0,996.7 1374.5,997.2 1376.0,997.7 1377.5,998.2 1379.0,997.5 1380.5,998.3 1382.0,998.1 1383.5,999.4 1385.0,998.8 1386.5,998.8 1388.0,999.0 1389.5,999.8 1391.0,999.9 1392.5,999.5 1394.0,1000.3 1395.5,1000.0 1397.0,1000.6 1398.5,1000.7 1400.0,1001.0 1401.5,1001.5 1403.0,1001.8 1404.5,1002.7 1406.0,1003.1 1407.5,1003.0 1409.0,1002.9 1410.5,1004.0 1412.0,1003.2 1413.5,1003.5 1415.0,1004.9 1416.5,1005.2 1418.0,1005.6 1419.5,1005.4 1421.0,1005.4 1422.5,1006.0 1424.0,1006.8 1425.5,1006.6 1427.0,1007.1 1428.5,1007.2 1430.0,1007.7 1431.5,1009.0 1433.0,1009.4 1434.5,1009.3 1436.0,1009.9 1437.5,1010.8 1439.0,1011.9 1440.5,1011.8 1442.0,1012.9 1443.5,1012.7 1445.0,1013.7 1446.5,1015.1 1448.0,1015.9 1449.5,1015.8 1451.0,1016.6 1452.5,1017.9 1454.0,1018.1 1455.5,1018.7 1457.0,1019.8 1458.5,1020.3 1460.0,1021.2 1461.5,1021.6 1463.0,1021.6 1464.5,1022.4 1466.0,1023.0 1467.5,1023.1 1469.0,1023.9 1470.5,1025.4 1472.0,1025.2 1473.5,1027.1 1475.0,1027.8 1476.5,1028.7 1478.0,1030.2 1479.5,1031.5 1481.0,1033.5 1482.5,1034.8 1484.0,1037.2 1485.5,1040.0 1487.0,1044.3 1488.5,1048.0 1490.0,1052.2 1491.5,1057.9 1493.0,1063.7 1494.5,1070.4 1496.0,1077.3 1497.5,1084.7 1499.0,1088.5 1500.5,1095.8 1502.0,1103.7 1503.5,1112.8 1505.0,1123.6 1506.5,1134.5 1508.0,1145.8 1509.5,1157.0 1511.0,1166.4 1512.5,1177.9 1514.0,1187.8 1515.5,1199.2 1517.0,1209.7 1518.5,1221.3 1520.0,1232.8 1521.5,1245.3 1523.0,1257.5 1524.5,1270.0 1526.0,1283.5 1527.5,1296.4 1529.0,1309.6 1530.5,1320.2 1532.0,1333.0 1533.5,1345.6 1535.0,1356.8 1536.5,1369.7 1538.0,1383.6 1539.5,1396.8 1541.0,1409.6 1542.5,1424.5 1544.0,1439.0 1545.5,1454.3 1547.0,1470.7 1548.5,1491.1 1550.0,1517.4 1551.5,1544.4 1553.0,1565.6 1554.5,1573.6 1556.0,1565.0 1557.5,1542.8 1559.0,1518.6 1560.5,1499.3 1562.0,1477.4 1563.5,1447.7 1565.0,1390.6 1566.5,1320.5 1568.0,1270.0 1569.5,1231.3 1571.0,1202.2 1572.5,1177.4 1574.0,1157.5 1575.5,1142.3 1577.0,1126.3 1578.5,1114.6 1580.0,1104.8 1581.5,1096.3 1583.0,1089.5 1584.5,1082.8 1586.0,1077.6 1587.5,1075.1 1589.0,1072.0 1590.5,1070.1 1592.0,1068.1 1593.5,1067.0 1595.0,1066.9 1596.5,1066.8 1598.0,1067.6 1599.5,1069.3 1601.0,1072.8 1602.5,1075.4 1604.0,1079.9 1605.5,1084.7 1607.0,1092.2 1608.5,1102.6 1610.0,1113.3 1611.5,1124.2 1613.0,1136.7 1614.5,1149.1 1616.0,1161.8 1617.5,1172.1 1619.0,1180.6 1620.5,1187.7 1622.0,1194.3 1623.5,1200.6 1625.0,1205.1 1626.5,1210.7 1628.0,1215.9 1629.5,1220.1 1631.0,1226.8 1632.5,1233.3 1634.0,1239.1 1635.5,1243.6 1637.0,1248.4 1638.5,1251.5 1640.0,1253.2 1641.5,1256.0 1643.0,1257.8 1644.5,1258.1 1646.0,1257.2 1647.5,1256.1 1649.0,1252.0 1650.5,1247.5 1652.0,1242.7 1653.5,1234.8 1655.0,1224.5 1656.5,1212.8 1658.0,1201.9 1659.5,1189.2 1661.0,1178.4 1662.5,1174.0 1664.0,1172.0 1665.5,1170.1 1667.0,1171.9 1668.5,1177.3 1670.0,1187.5 1671.5,1199.7 1673.0,1214.9 1674.5,1231.4 1676.0,1248.9 1677.5,1268.4 1679.0,1290.3 1680.5,1322.2 1682.0,1361.5 1683.5,1395.8 1685.0,1410.3 1686.5,1402.9 1688.0,1382.1 1689.5,1356.7 1691.0,1327.9 1692.5,1301.5 1694.0,1278.5 1695.5,1253.2 1697.0,1216.1 1698.5,1169.9 1700.0,1138.6 1701.5,1114.9 1703.0,1095.5 1704.5,1081.0 1706.0,1069.2 1707.5,1058.8 1709.0,1049.8 1710.5,1043.4 1712.0,1036.5 1713.5,1031.2 1715.0,1027.4 1716.5,1024.4 1718.0,1021.7 1719.5,1020.0 1721.0,1018.0 1722.5,1016.4 1724.0,1015.5 1725.5,1014.9 1727.0,1014.8 1728.5,1015.6 1730.0,1017.1 1731.5,1018.2 1733.0,1019.7 1734.5,1022.2 1736.0,1022.7 1737.5,1023.4 1739.0,1023.8 1740.5,1024.3 1742.0,1024.6 1743.5,1024.9 1745.0,1024.8 1746.5,1025.8 1748.0,1025.4 1749.5,1026.3 1751.0,1025.5 1752.5,1026.2 1754.0,1027.5 1755.5,1027.6 1757.0,1028.1 1758.5,1029.8 1760.0,1031.1 1761.5,1034.1 1763.0,1036.2 1764.5,1040.4 1766.0,1044.6 1767.5,1051.4 1769.0,1059.7 1770.5,1068.4 1772.0,1079.8 1773.5,1089.7 1775.0,1101.6 1776.5,1116.5 1778.0,1134.2 1779.5,1149.3 1781.0,1163.2 1782.5,1176.4 1784.0,1189.1 1785.5,1202.6 1787.0,1214.3 1788.5,1227.2 1790.0,1238.6 1791.5,1249.6 1793.0,1262.0 1794.5,1272.3 1796.0,1283.5 1797.5,1296.6 1799.0,1309.9 1800.5,1330.2 1802.0,1353.0 1803.5,1371.7 1805.0,1382.4 1806.5,1390.8 1808.0,1399.4 1809.5,1406.1 1811.0,1411.3 1812.5,1415.5 1814.0,1417.8 1815.5,1417.8 1817.0,1417.0 1818.5,1413.6 1820.0,1409.6 1821.5,1402.9 1823.0,1395.8 1824.5,1386.8 1826.0,1375.7 1827.5,1341.8 1829.0,1297.0 1830.5,1276.4 1832.0,1260.1 1833.5,1249.6 1835.0,1244.1 1836.5,1239.8 1838.0,1236.0 1839.5,1234.3 1841.0,1232.9 1842.5,1231.0 1844.0,1230.6 1845.5,1229.8 1847.0,1229.0 1848.5,1227.9 1850.0,1226.4 1851.5,1223.4 1853.0,1217.9 1854.5,1210.9 1856.0,1200.9 1857.5,1185.6 1859.0,1171.4 1860.5,1157.9 1862.0,1144.0 1863.5,1133.5 1865.0,1124.9 1866.5,1117.5 1868.0,1111.8 1869.5,1109.1 1871.0,1107.2 1872.5,1106.5 1874.0,1105.5 1875.5,1104.3 1877.0,1106.2 1878.5,1109.1 1880.0,1115.2 1881.5,1120.0 1883.0,1126.3 1884.5,1137.0 1886.0,1149.3 1887.5,1159.7 1889.0,1164.6 1890.5,1162.6 1892.0,1158.7 1893.5,1152.9 1895.0,1145.0 1896.5,1138.2 1898.0,1124.4 1899.5,1109.3 1901.0,1097.7 1902.5,1092.1 1904.0,1087.0 1905.5,1083.4 1907.0,1083.1 1908.5,1081.6 1910.0,1080.7 1911.5,1080.5 1913.0,1080.2 1914.5,1079.6 1916.0,1078.2 1917.5,1075.1 1919.0,1068.7 1920.5,1059.6 1922.0,1052.0 1923.5,1045.2 1925.0,1039.3 1926.5,1033.6 1928.0,1027.5 1929.5,1022.1 1931.0,1018.5 1932.5,1015.3 1934.0,1011.5 1935.5,1009.4 1937.0,1008.5 1938.5,1007.0 1940.0,1007.5 1941.5,1007.1 1943.0,1007.6 1944.5,1007.9 1946.0,1009.6 1947.5,1011.9 1949.0,1015.0 1950.5,1018.8 1952.0,1030.7 1953.5,1048.6 1955.0,1065.0 1956.5,1082.6 1958.0,1096.9 1959.5,1098.2 1961.0,1095.6 1962.5,1093.9 1964.0,1091.6 1965.5,1089.2 1967.0,1088.3 1968.5,1087.6 1970.0,1086.6 1971.5,1085.7 1973.0,1084.9 1974.5,1084.0 1976.0,1080.1 1977.5,1072.4 1979.0,1062.8 1980.5,1054.6 1982.0,1049.3 1983.5,1041.6 1985.0,1036.7 1986.5,1032.3 1988.0,1027.5 1989.5,1024.5 1991.0,1021.1 1992.5,1017.1 1994.0,1014.7 1995.5,1011.8 1997.0,1010.6 1998.5,1008.9 2000.0,1007.6 2001.5,1006.8 2003.0,1005.5 2004.5,1005.2 2006.0,1004.9 2007.5,1009.6 2009.0,1021.3 2010.5,1038.0 2012.0,1071.8 2013.5,1110.5 2015.0,1122.6 2016.5,1098.2 2018.0,1075.1 2019.5,1058.3 2021.0,1043.4 2022.5,1031.2 2024.0,1021.8 2025.5,1012.6 2027.0,1008.5 2028.5,1005.8 2030.0,1004.1 2031.5,1003.6 2033.0,1002.7 2034.5,1002.6 2036.0,1001.4 2037.5,1001.5 2039.0,1000.7 2040.5,1001.9 2042.0,1001.4 2043.5,1002.7 2045.0,1002.7 2046.5,1005.0 2048.0,1006.1 2049.5,1008.7 2051.0,1010.7 2052.5,1011.9 2054.0,1014.7 2055.5,1017.7 2057.0,1020.7 2058.5,1024.3 2060.0,1027.4 2061.5,1030.3 2063.0,1034.5 2064.5,1038.7 2066.0,1041.4 2067.5,1043.6 2069.0,1044.0 2070.5,1043.7 2072.0,1043.3 2073.5,1043.7 2075.0,1043.4 2076.5,1043.1 2078.0,1042.5 2079.5,1043.3 2081.0,1046.3 2082.5,1057.0 2084.0,1069.7 2085.5,1085.9 2087.0,1092.9 2088.5,1094.3 2090.0,1094.7 2091.5,1094.7 2093.0,1095.3 2094.5,1095.6 2096.0,1100.8 2097.5,1113.9 2099.0,1127.0 2100.5,1136.3 2102.0,1143.2 2103.5,1142.8 2105.0,1134.0 2106.5,1120.3 2108.0,1101.1 2109.5,1074.3 2111.0,1061.3 2112.5,1056.2 2114.0,1052.7 2115.5,1052.4 2117.0,1053.9 2118.5,1057.0 2120.0,1060.4 2121.5,1062.8 2123.0,1067.7 2124.5,1072.2 2126.0,1076.9 2127.5,1083.0 2129.0,1089.9 2130.5,1097.4 2132.0,1105.4 2133.5,1115.7 2135.0,1127.2 2136.5,1135.6 2138.0,1142.8 2139.5,1148.6 2141.0,1152.4 2142.5,1154.3 2144.0,1152.1 2145.5,1147.0 2147.0,1140.2 2148.5,1133.4 2150.0,1128.5 2151.5,1123.0 2153.0,1118.2 2154.5,1113.8 2156.0,1110.2 2157.5,1108.1 2159.0,1107.0 2160.5,1105.7 2162.0,1102.1 2163.5,1092.1 2165.0,1081.4 2166.5,1071.2 2168.0,1061.4 2168.7,1056.1"/>
</g>
<g stroke="#000" stroke-opacity="0.31" stroke-width="6.5" stroke-dasharray="10.2 9.25" fill="none">
<line x1="517.8" y1="403.0" x2="517.8" y2="1600.0"/>
<line x1="871.2" y1="331.0" x2="871.2" y2="1622.0"/>
<line x1="1555.4" y1="425.0" x2="1555.4" y2="1604.0"/>
<line x1="1638.9" y1="397.0" x2="1638.9" y2="1600.0"/>
<line x1="1689.5" y1="408.0" x2="1689.5" y2="1600.0"/>
<line x1="1818.9" y1="394.0" x2="1818.9" y2="1600.0"/>
<line x1="1855.0" y1="396.0" x2="1855.0" y2="1600.0"/>
</g>
<g fill="none" stroke-width="11.5" stroke-linecap="round">
<line x1="210" y1="66.5" x2="352" y2="66.5" stroke="#555555"/>
<line x1="210" y1="154.5" x2="352" y2="154.5" stroke="#069306"/>
<line x1="790" y1="66.5" x2="931" y2="66.5" stroke="#1a6ade"/>
<line x1="819" y1="154.5" x2="960" y2="154.5" stroke="#ff0000"/>
</g>
<g font-size="90.5" text-anchor="middle">
<text x="212.2" y="1707">4000</text>
<text x="491.8" y="1707">3500</text>
<text x="771.4" y="1707">3000</text>
<text x="1051.0" y="1707">2500</text>
<text x="1330.6" y="1707">2000</text>
<text x="1610.2" y="1707">1500</text>
<text x="1889.8" y="1707">1000</text>
<text x="2169.4" y="1707">500</text>
</g>
<g font-size="70.5">
<text x="390" y="92.5" textLength="363" lengthAdjust="spacingAndGlyphs">Contorl SCB</text>
<text x="369.5" y="179.5" textLength="394" lengthAdjust="spacingAndGlyphs">Xyn10A SCB</text>
<text x="949.7" y="92.5" textLength="592.6" lengthAdjust="spacingAndGlyphs">C2730+S10048 SCB</text>
<text x="977.8" y="179.5" textLength="876.5" lengthAdjust="spacingAndGlyphs">C2730+S10048+Xyn10A SCB</text>
</g>
<g font-size="68">
<text transform="translate(540.3 380.2) rotate(-90)" textLength="125.8" lengthAdjust="spacingAndGlyphs">3450</text>
<text transform="translate(889.6 315.0) rotate(-90)" textLength="132.9" lengthAdjust="spacingAndGlyphs">2830</text>
<text transform="translate(1571.0 354.6) rotate(-90)" textLength="128.4" lengthAdjust="spacingAndGlyphs">1602</text>
<text transform="translate(1654.0 372.0) rotate(-90)" textLength="132.7" lengthAdjust="spacingAndGlyphs">1435</text>
<text transform="translate(1717.0 367.5) rotate(-90)" textLength="130.1" lengthAdjust="spacingAndGlyphs">1360</text>
<text transform="translate(1822.0 372.0) rotate(-90)" textLength="129.5" lengthAdjust="spacingAndGlyphs">1132</text>
<text transform="translate(1900.0 378.9) rotate(-90)" textLength="130.2" lengthAdjust="spacingAndGlyphs">1062</text>
</g>
<text transform="translate(85 1126) rotate(-90)" font-size="98" textLength="708" lengthAdjust="spacingAndGlyphs">Transmittance (%)</text>
<text transform="translate(799 1881.6) scale(1.026 1)" font-size="96">Wavenumber (cm<tspan font-size="62" dy="-39">-1</tspan><tspan dy="39">)</tspan></text>
</g>
</svg></body></html>
